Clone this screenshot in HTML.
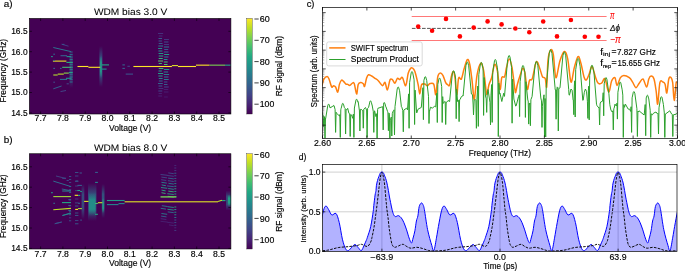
<!DOCTYPE html>
<html><head><meta charset="utf-8"><style>
html,body{margin:0;padding:0;background:#fff;}
svg{display:block;will-change:transform;font-family:"Liberation Sans", sans-serif;}
</style></head><body>
<svg xmlns="http://www.w3.org/2000/svg" width="685" height="271" viewBox="0 0 685 271">
<defs>
<linearGradient id="vgrad" x1="0" y1="1" x2="0" y2="0">
<stop offset="0.0" stop-color="#440154"/><stop offset="0.1" stop-color="#482475"/><stop offset="0.2" stop-color="#414487"/><stop offset="0.3" stop-color="#355f8d"/><stop offset="0.4" stop-color="#2a788e"/><stop offset="0.5" stop-color="#21918c"/><stop offset="0.6" stop-color="#22a884"/><stop offset="0.7" stop-color="#44bf70"/><stop offset="0.8" stop-color="#7ad151"/><stop offset="0.9" stop-color="#bddf26"/><stop offset="1.0" stop-color="#fde725"/>
</linearGradient>
<clipPath id="clipc"><rect x="322.5" y="7.5" width="355" height="131"/></clipPath>
<clipPath id="clipd"><rect x="322.5" y="164.6" width="354.5" height="86.9"/></clipPath>
<linearGradient id="bg0" x1="0" y1="0" x2="0" y2="1"><stop offset="0" stop-color="#355f8d" stop-opacity="0"/><stop offset="0.3" stop-color="#355f8d" stop-opacity="0.6"/><stop offset="0.7" stop-color="#355f8d" stop-opacity="0.6"/><stop offset="1" stop-color="#355f8d" stop-opacity="0"/></linearGradient><linearGradient id="bg1" x1="0" y1="0" x2="0" y2="1"><stop offset="0" stop-color="#32668d" stop-opacity="0"/><stop offset="0.3" stop-color="#32668d" stop-opacity="0.75"/><stop offset="0.7" stop-color="#32668d" stop-opacity="0.75"/><stop offset="1" stop-color="#32668d" stop-opacity="0"/></linearGradient><linearGradient id="bg2" x1="0" y1="0" x2="0" y2="1"><stop offset="0" stop-color="#229c88" stop-opacity="0"/><stop offset="0.3" stop-color="#229c88" stop-opacity="0.9"/><stop offset="0.7" stop-color="#229c88" stop-opacity="0.9"/><stop offset="1" stop-color="#229c88" stop-opacity="0"/></linearGradient><linearGradient id="bg3" x1="0" y1="0" x2="0" y2="1"><stop offset="0" stop-color="#32668d" stop-opacity="0"/><stop offset="0.3" stop-color="#32668d" stop-opacity="0.7"/><stop offset="0.7" stop-color="#32668d" stop-opacity="0.7"/><stop offset="1" stop-color="#32668d" stop-opacity="0"/></linearGradient><linearGradient id="bg4" x1="0" y1="0" x2="0" y2="1"><stop offset="0" stop-color="#2e6e8e" stop-opacity="0"/><stop offset="0.3" stop-color="#2e6e8e" stop-opacity="0.7"/><stop offset="0.7" stop-color="#2e6e8e" stop-opacity="0.7"/><stop offset="1" stop-color="#2e6e8e" stop-opacity="0"/></linearGradient><linearGradient id="bg5" x1="0" y1="0" x2="0" y2="1"><stop offset="0" stop-color="#21968a" stop-opacity="0"/><stop offset="0.3" stop-color="#21968a" stop-opacity="0.85"/><stop offset="0.7" stop-color="#21968a" stop-opacity="0.85"/><stop offset="1" stop-color="#21968a" stop-opacity="0"/></linearGradient><linearGradient id="bg6" x1="0" y1="0" x2="0" y2="1"><stop offset="0" stop-color="#2c738e" stop-opacity="0"/><stop offset="0.3" stop-color="#2c738e" stop-opacity="0.7"/><stop offset="0.7" stop-color="#2c738e" stop-opacity="0.7"/><stop offset="1" stop-color="#2c738e" stop-opacity="0"/></linearGradient><linearGradient id="bg7" x1="0" y1="0" x2="0" y2="1"><stop offset="0" stop-color="#229c88" stop-opacity="0"/><stop offset="0.3" stop-color="#229c88" stop-opacity="0.85"/><stop offset="0.7" stop-color="#229c88" stop-opacity="0.85"/><stop offset="1" stop-color="#229c88" stop-opacity="0"/></linearGradient><linearGradient id="bg8" x1="0" y1="0" x2="0" y2="1"><stop offset="0" stop-color="#32668d" stop-opacity="0"/><stop offset="0.3" stop-color="#32668d" stop-opacity="0.65"/><stop offset="0.7" stop-color="#32668d" stop-opacity="0.65"/><stop offset="1" stop-color="#32668d" stop-opacity="0"/></linearGradient><linearGradient id="bg9" x1="0" y1="0" x2="0" y2="1"><stop offset="0" stop-color="#22a386" stop-opacity="0"/><stop offset="0.3" stop-color="#22a386" stop-opacity="0.95"/><stop offset="0.7" stop-color="#22a386" stop-opacity="0.95"/><stop offset="1" stop-color="#22a386" stop-opacity="0"/></linearGradient></defs>
<rect width="685" height="271" fill="#fff"/>
<g>
<clipPath id="clipa"><rect x="29.4" y="18.45" width="201.5" height="95.55"/></clipPath>
<rect x="29.40" y="18.45" width="201.50" height="95.55" fill="#440154"/>
<g clip-path="url(#clipa)">
<rect x="69.60" y="50.00" width="3.20" height="38.00" fill="url(#bg0)"/>
<rect x="99.40" y="46.00" width="3.00" height="41.00" fill="url(#bg1)"/>
<rect x="99.90" y="56.00" width="2.00" height="22.00" fill="url(#bg2)"/>
<rect x="69.60" y="51.55" width="3.00" height="0.90" fill="#31688d"/>
<rect x="69.60" y="54.05" width="3.00" height="0.90" fill="#2e6f8e"/>
<rect x="69.60" y="56.55" width="3.00" height="0.90" fill="#2d728e"/>
<rect x="69.60" y="59.05" width="3.00" height="0.90" fill="#297a8e"/>
<rect x="69.60" y="64.05" width="3.00" height="0.90" fill="#2e6f8e"/>
<rect x="69.60" y="69.05" width="3.00" height="0.90" fill="#2a798e"/>
<rect x="69.60" y="71.55" width="3.00" height="0.90" fill="#404687"/>
<rect x="69.60" y="74.05" width="3.00" height="0.90" fill="#35608d"/>
<rect x="69.60" y="76.55" width="3.00" height="0.90" fill="#297a8e"/>
<rect x="69.60" y="79.05" width="3.00" height="0.90" fill="#306a8d"/>
<rect x="69.60" y="81.55" width="3.00" height="0.90" fill="#2a788e"/>
<line x1="61.50" y1="44.20" x2="68.50" y2="46.20" stroke="#414487" stroke-width="0.9"/>
<rect x="158.01" y="33.00" width="5.13" height="1.00" fill="#462f7b"/>
<rect x="158.80" y="35.50" width="3.76" height="1.00" fill="#472877"/>
<rect x="158.51" y="38.00" width="3.53" height="1.00" fill="#38598c"/>
<rect x="163.98" y="39.00" width="4.98" height="1.00" fill="#45327d"/>
<rect x="158.54" y="40.50" width="3.37" height="1.00" fill="#39558b"/>
<rect x="164.05" y="41.50" width="4.41" height="1.00" fill="#3b518a"/>
<rect x="158.69" y="43.00" width="3.86" height="1.00" fill="#39578b"/>
<rect x="164.03" y="44.00" width="4.95" height="1.00" fill="#44367f"/>
<rect x="158.32" y="45.50" width="4.77" height="1.00" fill="#2a798e"/>
<rect x="163.87" y="46.50" width="5.22" height="1.00" fill="#2c748e"/>
<rect x="158.11" y="48.00" width="4.04" height="1.00" fill="#228d8c"/>
<rect x="164.18" y="49.00" width="4.01" height="1.00" fill="#39578b"/>
<rect x="158.41" y="50.50" width="4.01" height="1.00" fill="#228d8c"/>
<rect x="163.81" y="51.50" width="4.64" height="1.00" fill="#2e6e8e"/>
<rect x="158.55" y="53.00" width="4.74" height="1.00" fill="#21978a"/>
<rect x="164.11" y="54.00" width="5.07" height="1.00" fill="#21988a"/>
<rect x="158.69" y="55.50" width="4.65" height="1.00" fill="#22a784"/>
<rect x="164.14" y="56.50" width="4.28" height="1.00" fill="#27808d"/>
<rect x="158.67" y="58.00" width="4.05" height="1.00" fill="#34b479"/>
<rect x="163.77" y="59.00" width="3.74" height="1.00" fill="#228f8c"/>
<rect x="158.07" y="60.50" width="5.01" height="1.00" fill="#55c566"/>
<rect x="163.85" y="61.50" width="3.83" height="1.00" fill="#43bf70"/>
<rect x="158.70" y="63.00" width="3.17" height="1.00" fill="#39b876"/>
<rect x="163.97" y="64.00" width="3.51" height="1.00" fill="#46c06f"/>
<rect x="158.70" y="68.00" width="4.66" height="1.00" fill="#3bb975"/>
<rect x="163.90" y="69.00" width="5.29" height="1.00" fill="#219989"/>
<rect x="158.48" y="70.50" width="3.37" height="1.00" fill="#219b89"/>
<rect x="163.72" y="71.50" width="4.42" height="1.00" fill="#27818d"/>
<rect x="158.03" y="73.00" width="5.15" height="1.00" fill="#229d88"/>
<rect x="163.79" y="74.00" width="5.34" height="1.00" fill="#2a788e"/>
<rect x="158.37" y="75.50" width="4.26" height="1.00" fill="#229f87"/>
<rect x="163.99" y="76.50" width="4.49" height="1.00" fill="#2a778e"/>
<rect x="158.75" y="78.00" width="3.86" height="1.00" fill="#26828d"/>
<rect x="163.86" y="79.00" width="4.84" height="1.00" fill="#2b778e"/>
<rect x="158.78" y="80.50" width="3.85" height="1.00" fill="#32668d"/>
<rect x="163.93" y="81.50" width="3.49" height="1.00" fill="#375a8c"/>
<rect x="158.02" y="83.00" width="4.77" height="1.00" fill="#34628d"/>
<rect x="163.98" y="84.00" width="3.53" height="1.00" fill="#375b8c"/>
<rect x="158.54" y="85.50" width="3.82" height="1.00" fill="#34608d"/>
<rect x="164.02" y="86.50" width="4.70" height="1.00" fill="#3f4888"/>
<rect x="158.54" y="88.00" width="4.80" height="1.00" fill="#462f7b"/>
<rect x="163.75" y="89.00" width="4.47" height="1.00" fill="#471e6f"/>
<rect x="158.29" y="90.50" width="4.01" height="1.00" fill="#414487"/>
<rect x="163.82" y="91.50" width="4.65" height="1.00" fill="#471e70"/>
<rect x="158.62" y="93.00" width="3.23" height="1.00" fill="#482172"/>
<rect x="158.25" y="95.50" width="3.91" height="1.00" fill="#482273"/>
<rect x="164.08" y="96.50" width="3.75" height="1.00" fill="#47186a"/>
<rect x="52.90" y="60.55" width="13.50" height="1.10" fill="#eae525"/>
<rect x="66.40" y="61.85" width="6.40" height="1.10" fill="#29ad80"/>
<rect x="77.50" y="65.95" width="10.90" height="1.10" fill="#fde725"/>
<rect x="88.40" y="66.75" width="11.80" height="1.10" fill="#fde725"/>
<rect x="133.40" y="65.95" width="38.50" height="1.10" fill="#fde725"/>
<rect x="171.90" y="65.05" width="6.10" height="1.10" fill="#dde326"/>
<rect x="178.00" y="65.95" width="18.00" height="1.10" fill="#fde725"/>
<rect x="196.00" y="64.60" width="13.50" height="1.10" fill="#fde725"/>
<rect x="209.50" y="64.60" width="15.50" height="1.10" fill="#7ad151"/>
<rect x="225.00" y="64.60" width="6.00" height="1.10" fill="#22a884"/>
<rect x="62.20" y="66.75" width="9.40" height="1.10" fill="#3dba74"/>
<rect x="71.60" y="66.75" width="1.20" height="1.10" fill="#21918c"/>
<rect x="53.30" y="74.45" width="4.40" height="1.10" fill="#b0dc2f"/>
<rect x="57.70" y="73.55" width="6.10" height="1.10" fill="#bddf26"/>
<rect x="63.80" y="72.55" width="5.00" height="1.10" fill="#87d448"/>
<rect x="68.80" y="72.05" width="3.90" height="1.10" fill="#22a884"/>
<rect x="102.00" y="64.35" width="7.00" height="1.10" fill="#22a884"/>
<rect x="102.00" y="68.55" width="4.60" height="1.10" fill="#21918c"/>
<rect x="122.40" y="64.35" width="2.50" height="1.10" fill="#33648d"/>
<rect x="122.40" y="67.85" width="2.50" height="1.10" fill="#355f8d"/>
<rect x="125.70" y="73.55" width="7.30" height="1.10" fill="#3b528a"/>
<rect x="127.40" y="65.75" width="2.50" height="1.10" fill="#414487"/>
<line x1="53.30" y1="47.50" x2="71.00" y2="51.60" stroke="#2c738e" stroke-width="1.0"/>
<rect x="62.20" y="43.85" width="2.20" height="1.10" fill="#3b528a"/>
<rect x="60.50" y="55.15" width="6.60" height="1.10" fill="#355f8d"/>
<rect x="66.60" y="56.05" width="4.40" height="1.10" fill="#21918c"/>
<rect x="51.10" y="56.05" width="1.70" height="1.10" fill="#229c88"/>
<rect x="53.30" y="53.65" width="1.70" height="1.10" fill="#355f8d"/>
<rect x="53.30" y="59.95" width="1.70" height="1.10" fill="#355f8d"/>
<rect x="53.30" y="67.85" width="1.70" height="1.10" fill="#33648d"/>
<rect x="60.00" y="67.85" width="1.60" height="1.10" fill="#355f8d"/>
<rect x="60.00" y="78.85" width="7.10" height="1.10" fill="#306c8e"/>
<rect x="66.00" y="77.75" width="5.60" height="1.10" fill="#21918c"/>
<rect x="53.30" y="81.65" width="1.70" height="1.10" fill="#3f4988"/>
<rect x="66.60" y="83.25" width="2.20" height="1.10" fill="#414487"/>
<line x1="53.30" y1="88.80" x2="61.60" y2="86.00" stroke="#355f8d" stroke-width="1.0"/>
<line x1="60.50" y1="91.60" x2="66.00" y2="90.50" stroke="#414487" stroke-width="1.0"/>
</g>
<rect x="29.4" y="18.45" width="201.5" height="95.55" fill="none" stroke="#000" stroke-width="0.6"/>
<line x1="29.40" y1="31.30" x2="31.90" y2="31.30" stroke="#000" stroke-width="0.6"/>
<line x1="230.90" y1="31.30" x2="228.40" y2="31.30" stroke="#000" stroke-width="0.6"/>
<line x1="29.40" y1="51.70" x2="31.90" y2="51.70" stroke="#000" stroke-width="0.6"/>
<line x1="230.90" y1="51.70" x2="228.40" y2="51.70" stroke="#000" stroke-width="0.6"/>
<line x1="29.40" y1="72.10" x2="31.90" y2="72.10" stroke="#000" stroke-width="0.6"/>
<line x1="230.90" y1="72.10" x2="228.40" y2="72.10" stroke="#000" stroke-width="0.6"/>
<line x1="29.40" y1="92.50" x2="31.90" y2="92.50" stroke="#000" stroke-width="0.6"/>
<line x1="230.90" y1="92.50" x2="228.40" y2="92.50" stroke="#000" stroke-width="0.6"/>
<line x1="29.40" y1="112.90" x2="31.90" y2="112.90" stroke="#000" stroke-width="0.6"/>
<line x1="230.90" y1="112.90" x2="228.40" y2="112.90" stroke="#000" stroke-width="0.6"/>
<line x1="40.60" y1="114.00" x2="40.60" y2="111.50" stroke="#000" stroke-width="0.6"/>
<line x1="40.60" y1="18.45" x2="40.60" y2="20.95" stroke="#000" stroke-width="0.6"/>
<line x1="62.90" y1="114.00" x2="62.90" y2="111.50" stroke="#000" stroke-width="0.6"/>
<line x1="62.90" y1="18.45" x2="62.90" y2="20.95" stroke="#000" stroke-width="0.6"/>
<line x1="85.20" y1="114.00" x2="85.20" y2="111.50" stroke="#000" stroke-width="0.6"/>
<line x1="85.20" y1="18.45" x2="85.20" y2="20.95" stroke="#000" stroke-width="0.6"/>
<line x1="107.50" y1="114.00" x2="107.50" y2="111.50" stroke="#000" stroke-width="0.6"/>
<line x1="107.50" y1="18.45" x2="107.50" y2="20.95" stroke="#000" stroke-width="0.6"/>
<line x1="129.80" y1="114.00" x2="129.80" y2="111.50" stroke="#000" stroke-width="0.6"/>
<line x1="129.80" y1="18.45" x2="129.80" y2="20.95" stroke="#000" stroke-width="0.6"/>
<line x1="152.10" y1="114.00" x2="152.10" y2="111.50" stroke="#000" stroke-width="0.6"/>
<line x1="152.10" y1="18.45" x2="152.10" y2="20.95" stroke="#000" stroke-width="0.6"/>
<line x1="174.40" y1="114.00" x2="174.40" y2="111.50" stroke="#000" stroke-width="0.6"/>
<line x1="174.40" y1="18.45" x2="174.40" y2="20.95" stroke="#000" stroke-width="0.6"/>
<line x1="196.70" y1="114.00" x2="196.70" y2="111.50" stroke="#000" stroke-width="0.6"/>
<line x1="196.70" y1="18.45" x2="196.70" y2="20.95" stroke="#000" stroke-width="0.6"/>
<line x1="219.00" y1="114.00" x2="219.00" y2="111.50" stroke="#000" stroke-width="0.6"/>
<line x1="219.00" y1="18.45" x2="219.00" y2="20.95" stroke="#000" stroke-width="0.6"/>
<rect x="246.8" y="18.45" width="5.4" height="95.55" fill="url(#vgrad)" stroke="#222" stroke-width="0.35"/>
</g>
<text x="3.80" y="6.90" font-size="9.2" fill="#000" stroke="#000" stroke-width="0.15" textLength="8.80" lengthAdjust="spacingAndGlyphs">a)</text>
<text x="93.90" y="15.00" font-size="9.6" fill="#000" stroke="#000" stroke-width="0.05" textLength="73.40" lengthAdjust="spacingAndGlyphs" text-rendering="geometricPrecision">WDM bias 3.0 V</text>
<text x="11.20" y="34.10" font-size="8.4" fill="#000" stroke="#000" stroke-width="0.15" textLength="16.40" lengthAdjust="spacingAndGlyphs">16.5</text>
<text x="11.20" y="54.50" font-size="8.4" fill="#000" stroke="#000" stroke-width="0.15" textLength="16.40" lengthAdjust="spacingAndGlyphs">16.0</text>
<text x="11.20" y="74.90" font-size="8.4" fill="#000" stroke="#000" stroke-width="0.15" textLength="16.40" lengthAdjust="spacingAndGlyphs">15.5</text>
<text x="11.20" y="95.30" font-size="8.4" fill="#000" stroke="#000" stroke-width="0.15" textLength="16.40" lengthAdjust="spacingAndGlyphs">15.0</text>
<text x="11.20" y="115.70" font-size="8.4" fill="#000" stroke="#000" stroke-width="0.15" textLength="16.40" lengthAdjust="spacingAndGlyphs">14.5</text>
<text transform="translate(6.20,70.70) rotate(-90)" x="0" y="0" text-anchor="middle" font-size="8.4" fill="#000" stroke="#000" stroke-width="0.15" textLength="63.60" lengthAdjust="spacingAndGlyphs">Frequency (GHz)</text>
<text x="34.60" y="121.00" font-size="8.4" fill="#000" stroke="#000" stroke-width="0.15" textLength="12.00" lengthAdjust="spacingAndGlyphs">7.7</text>
<text x="56.90" y="121.00" font-size="8.4" fill="#000" stroke="#000" stroke-width="0.15" textLength="12.00" lengthAdjust="spacingAndGlyphs">7.8</text>
<text x="79.20" y="121.00" font-size="8.4" fill="#000" stroke="#000" stroke-width="0.15" textLength="12.00" lengthAdjust="spacingAndGlyphs">7.9</text>
<text x="101.50" y="121.00" font-size="8.4" fill="#000" stroke="#000" stroke-width="0.15" textLength="12.00" lengthAdjust="spacingAndGlyphs">8.0</text>
<text x="123.80" y="121.00" font-size="8.4" fill="#000" stroke="#000" stroke-width="0.15" textLength="12.00" lengthAdjust="spacingAndGlyphs">8.1</text>
<text x="146.10" y="121.00" font-size="8.4" fill="#000" stroke="#000" stroke-width="0.15" textLength="12.00" lengthAdjust="spacingAndGlyphs">8.2</text>
<text x="168.40" y="121.00" font-size="8.4" fill="#000" stroke="#000" stroke-width="0.15" textLength="12.00" lengthAdjust="spacingAndGlyphs">8.3</text>
<text x="190.70" y="121.00" font-size="8.4" fill="#000" stroke="#000" stroke-width="0.15" textLength="12.00" lengthAdjust="spacingAndGlyphs">8.4</text>
<text x="213.00" y="121.00" font-size="8.4" fill="#000" stroke="#000" stroke-width="0.15" textLength="12.00" lengthAdjust="spacingAndGlyphs">8.5</text>
<text x="109.00" y="130.70" font-size="8.4" fill="#000" stroke="#000" stroke-width="0.15" textLength="42.20" lengthAdjust="spacingAndGlyphs">Voltage (V)</text>
<line x1="254.40" y1="19.00" x2="258.70" y2="19.00" stroke="#000" stroke-width="0.75"/>
<text x="259.70" y="22.10" font-size="8.4" fill="#000" stroke="#000" stroke-width="0.15" textLength="10.00" lengthAdjust="spacingAndGlyphs">60</text>
<line x1="254.40" y1="40.30" x2="258.70" y2="40.30" stroke="#000" stroke-width="0.75"/>
<text x="259.70" y="43.40" font-size="8.4" fill="#000" stroke="#000" stroke-width="0.15" textLength="10.00" lengthAdjust="spacingAndGlyphs">70</text>
<line x1="254.40" y1="61.60" x2="258.70" y2="61.60" stroke="#000" stroke-width="0.75"/>
<text x="259.70" y="64.70" font-size="8.4" fill="#000" stroke="#000" stroke-width="0.15" textLength="10.00" lengthAdjust="spacingAndGlyphs">80</text>
<line x1="254.40" y1="82.90" x2="258.70" y2="82.90" stroke="#000" stroke-width="0.75"/>
<text x="259.70" y="86.00" font-size="8.4" fill="#000" stroke="#000" stroke-width="0.15" textLength="10.00" lengthAdjust="spacingAndGlyphs">90</text>
<line x1="254.40" y1="104.20" x2="258.70" y2="104.20" stroke="#000" stroke-width="0.75"/>
<text x="259.70" y="107.30" font-size="8.4" fill="#000" stroke="#000" stroke-width="0.15" textLength="14.60" lengthAdjust="spacingAndGlyphs">100</text>
<text transform="translate(281.60,66.05) rotate(-90)" x="0" y="0" text-anchor="middle" font-size="8.4" fill="#000" stroke="#000" stroke-width="0.15" textLength="60.30" lengthAdjust="spacingAndGlyphs">RF signal (dBm)</text>
<g>
<clipPath id="clipb"><rect x="29.4" y="153.75" width="201.5" height="95.25"/></clipPath>
<rect x="29.40" y="153.75" width="201.50" height="95.25" fill="#440154"/>
<g clip-path="url(#clipb)">
<rect x="81.60" y="184.00" width="2.70" height="35.00" fill="url(#bg3)"/>
<rect x="88.00" y="183.00" width="8.40" height="38.00" fill="url(#bg4)"/>
<rect x="89.00" y="193.00" width="6.60" height="23.00" fill="url(#bg5)"/>
<rect x="101.80" y="184.00" width="2.70" height="34.00" fill="url(#bg6)"/>
<rect x="102.20" y="198.00" width="1.90" height="15.00" fill="url(#bg7)"/>
<rect x="69.00" y="176.05" width="2.20" height="0.90" fill="#375a8c"/>
<rect x="69.00" y="179.05" width="2.20" height="0.90" fill="#39558b"/>
<rect x="69.00" y="182.05" width="2.20" height="0.90" fill="#3f4988"/>
<rect x="69.00" y="186.15" width="2.20" height="0.90" fill="#2e6f8e"/>
<rect x="69.00" y="189.15" width="2.20" height="0.90" fill="#424185"/>
<rect x="69.00" y="192.15" width="2.20" height="0.90" fill="#365c8c"/>
<rect x="69.00" y="199.35" width="2.20" height="0.90" fill="#2d708e"/>
<rect x="69.00" y="205.35" width="2.20" height="0.90" fill="#404687"/>
<rect x="69.00" y="211.35" width="2.20" height="0.90" fill="#355f8d"/>
<rect x="69.00" y="214.35" width="2.20" height="0.90" fill="#34628d"/>
<rect x="69.00" y="217.35" width="2.20" height="0.90" fill="#414387"/>
<rect x="69.00" y="220.35" width="2.20" height="0.90" fill="#39568b"/>
<rect x="75.00" y="172.05" width="3.40" height="0.90" fill="#375a8c"/>
<rect x="75.00" y="175.55" width="3.40" height="0.90" fill="#3d4c89"/>
<rect x="75.00" y="180.85" width="3.40" height="0.90" fill="#375b8c"/>
<rect x="75.00" y="185.55" width="3.40" height="0.90" fill="#433b82"/>
<rect x="75.00" y="190.25" width="3.40" height="0.90" fill="#424085"/>
<rect x="75.00" y="198.55" width="3.40" height="0.90" fill="#443880"/>
<rect x="75.00" y="202.45" width="3.40" height="0.90" fill="#3c4f89"/>
<rect x="75.00" y="205.55" width="3.40" height="0.90" fill="#32658d"/>
<rect x="75.00" y="212.55" width="3.40" height="0.90" fill="#3a548a"/>
<rect x="75.00" y="214.95" width="3.40" height="0.90" fill="#365e8d"/>
<rect x="75.00" y="220.15" width="3.40" height="0.90" fill="#3f4988"/>
<rect x="75.00" y="223.35" width="3.40" height="0.90" fill="#365c8c"/>
<line x1="61.80" y1="189.00" x2="70.90" y2="190.70" stroke="#306c8e" stroke-width="0.9"/>
<line x1="63.00" y1="215.40" x2="70.20" y2="213.00" stroke="#26848d" stroke-width="0.9"/>
<line x1="54.60" y1="223.80" x2="61.80" y2="222.00" stroke="#375a8c" stroke-width="0.9"/>
<line x1="56.00" y1="176.00" x2="66.00" y2="178.50" stroke="#3f4988" stroke-width="0.9"/>
<rect x="174.30" y="164.95" width="2.00" height="0.90" fill="#472978"/>
<rect x="174.30" y="167.55" width="2.00" height="0.90" fill="#433a82"/>
<rect x="174.30" y="170.15" width="2.00" height="0.90" fill="#443981"/>
<line x1="168.25" y1="172.90" x2="173.80" y2="173.70" stroke="#3d4c89" stroke-width="0.9"/>
<rect x="174.30" y="172.75" width="2.00" height="0.90" fill="#306b8d"/>
<line x1="160.57" y1="174.50" x2="167.65" y2="175.30" stroke="#3f4888" stroke-width="0.9"/>
<line x1="167.29" y1="175.50" x2="173.80" y2="176.30" stroke="#414387" stroke-width="0.9"/>
<rect x="174.30" y="175.35" width="2.00" height="0.90" fill="#375a8c"/>
<line x1="161.37" y1="177.10" x2="167.10" y2="177.90" stroke="#3f4988" stroke-width="0.9"/>
<line x1="168.10" y1="178.10" x2="173.80" y2="178.90" stroke="#306a8d" stroke-width="0.9"/>
<rect x="174.30" y="177.95" width="2.00" height="0.90" fill="#32678d"/>
<line x1="161.14" y1="179.70" x2="166.29" y2="180.50" stroke="#3e4a88" stroke-width="0.9"/>
<line x1="167.91" y1="180.70" x2="173.80" y2="181.50" stroke="#38588b" stroke-width="0.9"/>
<rect x="174.30" y="180.55" width="2.00" height="0.90" fill="#287e8e"/>
<line x1="161.36" y1="182.30" x2="166.81" y2="183.10" stroke="#27808d" stroke-width="0.9"/>
<line x1="168.46" y1="183.30" x2="173.80" y2="184.10" stroke="#27808d" stroke-width="0.9"/>
<rect x="174.30" y="183.15" width="2.00" height="0.90" fill="#238c8c"/>
<line x1="161.64" y1="184.90" x2="165.88" y2="185.70" stroke="#21988a" stroke-width="0.9"/>
<line x1="167.08" y1="185.90" x2="173.80" y2="186.70" stroke="#2d708e" stroke-width="0.9"/>
<rect x="174.30" y="185.75" width="2.00" height="0.90" fill="#22a784"/>
<line x1="160.97" y1="187.50" x2="167.24" y2="188.30" stroke="#219b89" stroke-width="0.9"/>
<line x1="168.16" y1="188.50" x2="173.80" y2="189.30" stroke="#21968a" stroke-width="0.9"/>
<rect x="174.30" y="188.35" width="2.00" height="0.90" fill="#22a884"/>
<line x1="161.50" y1="190.10" x2="165.65" y2="190.90" stroke="#27ab81" stroke-width="0.9"/>
<line x1="168.29" y1="191.10" x2="173.80" y2="191.90" stroke="#35b579" stroke-width="0.9"/>
<rect x="174.30" y="190.95" width="2.00" height="0.90" fill="#22a884"/>
<line x1="161.50" y1="192.70" x2="165.56" y2="193.50" stroke="#39b876" stroke-width="0.9"/>
<line x1="167.34" y1="193.70" x2="173.80" y2="194.50" stroke="#22a286" stroke-width="0.9"/>
<rect x="174.30" y="193.55" width="2.00" height="0.90" fill="#22a884"/>
<line x1="167.78" y1="196.30" x2="173.80" y2="197.10" stroke="#56c565" stroke-width="0.9"/>
<rect x="174.30" y="196.15" width="2.00" height="0.90" fill="#22a884"/>
<line x1="161.83" y1="205.70" x2="167.55" y2="206.50" stroke="#297c8e" stroke-width="0.9"/>
<line x1="167.56" y1="206.70" x2="173.80" y2="207.50" stroke="#21948b" stroke-width="0.9"/>
<rect x="174.30" y="206.55" width="2.00" height="0.90" fill="#22a884"/>
<line x1="160.73" y1="208.30" x2="165.94" y2="209.10" stroke="#287c8e" stroke-width="0.9"/>
<line x1="167.47" y1="209.30" x2="173.80" y2="210.10" stroke="#219c88" stroke-width="0.9"/>
<rect x="174.30" y="209.15" width="2.00" height="0.90" fill="#22a485"/>
<line x1="167.74" y1="211.90" x2="173.80" y2="212.70" stroke="#2e6e8e" stroke-width="0.9"/>
<rect x="174.30" y="211.75" width="2.00" height="0.90" fill="#219a89"/>
<line x1="161.43" y1="213.50" x2="167.19" y2="214.30" stroke="#287f8d" stroke-width="0.9"/>
<rect x="174.30" y="214.35" width="2.00" height="0.90" fill="#219889"/>
<line x1="161.09" y1="216.10" x2="166.50" y2="216.90" stroke="#31678d" stroke-width="0.9"/>
<rect x="174.30" y="216.95" width="2.00" height="0.90" fill="#27818d"/>
<line x1="160.74" y1="218.70" x2="166.35" y2="219.50" stroke="#462c7a" stroke-width="0.9"/>
<rect x="174.30" y="219.55" width="2.00" height="0.90" fill="#375a8c"/>
<line x1="160.54" y1="221.30" x2="167.69" y2="222.10" stroke="#472071" stroke-width="0.9"/>
<line x1="167.30" y1="222.30" x2="173.80" y2="223.10" stroke="#482374" stroke-width="0.9"/>
<rect x="174.30" y="222.15" width="2.00" height="0.90" fill="#39558b"/>
<line x1="168.99" y1="224.90" x2="173.80" y2="225.70" stroke="#482273" stroke-width="0.9"/>
<rect x="174.30" y="224.75" width="2.00" height="0.90" fill="#3c4e89"/>
<rect x="174.30" y="227.35" width="2.00" height="0.90" fill="#462c7a"/>
<rect x="174.30" y="229.95" width="2.00" height="0.90" fill="#433d83"/>
<rect x="160.50" y="196.20" width="15.90" height="1.40" fill="#6fcd57"/>
<rect x="53.30" y="196.05" width="17.70" height="1.10" fill="#a2d937"/>
<rect x="62.00" y="202.05" width="9.00" height="1.10" fill="#22a884"/>
<line x1="53.30" y1="209.80" x2="71.00" y2="208.40" stroke="#bddf26" stroke-width="1.1"/>
<rect x="74.70" y="194.75" width="3.30" height="1.10" fill="#fde725"/>
<rect x="78.00" y="194.85" width="2.20" height="1.10" fill="#22a884"/>
<rect x="75.20" y="208.85" width="2.80" height="1.10" fill="#fde725"/>
<rect x="78.00" y="208.05" width="3.90" height="1.10" fill="#9cd83c"/>
<rect x="84.10" y="200.85" width="4.40" height="1.10" fill="#dde326"/>
<rect x="95.10" y="202.95" width="2.80" height="1.10" fill="#44bf70"/>
<rect x="97.90" y="202.15" width="4.40" height="1.10" fill="#cae126"/>
<rect x="106.90" y="199.95" width="17.70" height="1.10" fill="#229c88"/>
<rect x="106.90" y="204.05" width="11.60" height="1.10" fill="#26848d"/>
<rect x="118.50" y="203.05" width="6.10" height="1.10" fill="#26848d"/>
<rect x="124.60" y="201.25" width="93.40" height="1.10" fill="#dde326"/>
<line x1="218.00" y1="201.60" x2="222.00" y2="200.30" stroke="#bddf26" stroke-width="1.1"/>
<rect x="222.00" y="200.05" width="3.50" height="1.10" fill="#22a884"/>
<rect x="226.00" y="190.50" width="5.00" height="20.00" fill="url(#bg8)"/>
<rect x="227.80" y="194.50" width="3.20" height="12.00" fill="url(#bg9)"/>
<line x1="53.30" y1="181.10" x2="71.00" y2="186.60" stroke="#306c8e" stroke-width="1.0"/>
<rect x="62.20" y="177.75" width="3.80" height="1.10" fill="#3f4988"/>
<rect x="66.60" y="179.95" width="2.20" height="1.10" fill="#3f4988"/>
<rect x="62.20" y="190.45" width="8.80" height="1.10" fill="#287d8e"/>
<rect x="51.10" y="192.15" width="1.70" height="1.10" fill="#229c88"/>
<rect x="68.30" y="199.15" width="2.70" height="1.10" fill="#355f8d"/>
<rect x="53.30" y="202.75" width="1.70" height="1.10" fill="#306c8e"/>
<rect x="68.30" y="204.95" width="2.70" height="1.10" fill="#355f8d"/>
<rect x="68.30" y="209.95" width="2.70" height="1.10" fill="#355f8d"/>
<line x1="62.20" y1="215.50" x2="71.00" y2="213.30" stroke="#26848d" stroke-width="1.0"/>
<line x1="55.00" y1="223.60" x2="61.60" y2="222.10" stroke="#3b528a" stroke-width="1.0"/>
<rect x="77.40" y="184.85" width="4.50" height="1.10" fill="#355f8d"/>
<rect x="77.40" y="189.95" width="2.80" height="1.10" fill="#22a884"/>
<rect x="80.20" y="190.95" width="1.70" height="1.10" fill="#229c88"/>
<rect x="79.60" y="172.45" width="2.30" height="1.10" fill="#3b528a"/>
<rect x="95.10" y="171.85" width="2.80" height="1.10" fill="#355f8d"/>
<rect x="95.10" y="181.85" width="2.80" height="1.10" fill="#26848d"/>
<rect x="95.10" y="213.75" width="2.80" height="1.10" fill="#22a884"/>
<rect x="80.20" y="219.55" width="1.70" height="1.10" fill="#3b528a"/>
<rect x="78.00" y="202.75" width="2.00" height="1.10" fill="#355f8d"/>
<rect x="75.50" y="180.45" width="2.70" height="1.10" fill="#3b528a"/>
</g>
<rect x="29.4" y="153.75" width="201.5" height="95.25" fill="none" stroke="#000" stroke-width="0.6"/>
<line x1="29.40" y1="166.80" x2="31.90" y2="166.80" stroke="#000" stroke-width="0.6"/>
<line x1="230.90" y1="166.80" x2="228.40" y2="166.80" stroke="#000" stroke-width="0.6"/>
<line x1="29.40" y1="187.20" x2="31.90" y2="187.20" stroke="#000" stroke-width="0.6"/>
<line x1="230.90" y1="187.20" x2="228.40" y2="187.20" stroke="#000" stroke-width="0.6"/>
<line x1="29.40" y1="207.60" x2="31.90" y2="207.60" stroke="#000" stroke-width="0.6"/>
<line x1="230.90" y1="207.60" x2="228.40" y2="207.60" stroke="#000" stroke-width="0.6"/>
<line x1="29.40" y1="228.00" x2="31.90" y2="228.00" stroke="#000" stroke-width="0.6"/>
<line x1="230.90" y1="228.00" x2="228.40" y2="228.00" stroke="#000" stroke-width="0.6"/>
<line x1="29.40" y1="248.40" x2="31.90" y2="248.40" stroke="#000" stroke-width="0.6"/>
<line x1="230.90" y1="248.40" x2="228.40" y2="248.40" stroke="#000" stroke-width="0.6"/>
<line x1="40.60" y1="249.00" x2="40.60" y2="246.50" stroke="#000" stroke-width="0.6"/>
<line x1="40.60" y1="153.75" x2="40.60" y2="156.25" stroke="#000" stroke-width="0.6"/>
<line x1="62.90" y1="249.00" x2="62.90" y2="246.50" stroke="#000" stroke-width="0.6"/>
<line x1="62.90" y1="153.75" x2="62.90" y2="156.25" stroke="#000" stroke-width="0.6"/>
<line x1="85.20" y1="249.00" x2="85.20" y2="246.50" stroke="#000" stroke-width="0.6"/>
<line x1="85.20" y1="153.75" x2="85.20" y2="156.25" stroke="#000" stroke-width="0.6"/>
<line x1="107.50" y1="249.00" x2="107.50" y2="246.50" stroke="#000" stroke-width="0.6"/>
<line x1="107.50" y1="153.75" x2="107.50" y2="156.25" stroke="#000" stroke-width="0.6"/>
<line x1="129.80" y1="249.00" x2="129.80" y2="246.50" stroke="#000" stroke-width="0.6"/>
<line x1="129.80" y1="153.75" x2="129.80" y2="156.25" stroke="#000" stroke-width="0.6"/>
<line x1="152.10" y1="249.00" x2="152.10" y2="246.50" stroke="#000" stroke-width="0.6"/>
<line x1="152.10" y1="153.75" x2="152.10" y2="156.25" stroke="#000" stroke-width="0.6"/>
<line x1="174.40" y1="249.00" x2="174.40" y2="246.50" stroke="#000" stroke-width="0.6"/>
<line x1="174.40" y1="153.75" x2="174.40" y2="156.25" stroke="#000" stroke-width="0.6"/>
<line x1="196.70" y1="249.00" x2="196.70" y2="246.50" stroke="#000" stroke-width="0.6"/>
<line x1="196.70" y1="153.75" x2="196.70" y2="156.25" stroke="#000" stroke-width="0.6"/>
<line x1="219.00" y1="249.00" x2="219.00" y2="246.50" stroke="#000" stroke-width="0.6"/>
<line x1="219.00" y1="153.75" x2="219.00" y2="156.25" stroke="#000" stroke-width="0.6"/>
<rect x="246.8" y="153.75" width="5.4" height="95.25" fill="url(#vgrad)" stroke="#222" stroke-width="0.35"/>
</g>
<text x="3.80" y="142.50" font-size="9.2" fill="#000" stroke="#000" stroke-width="0.15" textLength="8.80" lengthAdjust="spacingAndGlyphs">b)</text>
<text x="93.90" y="150.50" font-size="9.6" fill="#000" stroke="#000" stroke-width="0.05" textLength="73.40" lengthAdjust="spacingAndGlyphs" text-rendering="geometricPrecision">WDM bias 8.0 V</text>
<text x="11.20" y="169.60" font-size="8.4" fill="#000" stroke="#000" stroke-width="0.15" textLength="16.40" lengthAdjust="spacingAndGlyphs">16.5</text>
<text x="11.20" y="190.00" font-size="8.4" fill="#000" stroke="#000" stroke-width="0.15" textLength="16.40" lengthAdjust="spacingAndGlyphs">16.0</text>
<text x="11.20" y="210.40" font-size="8.4" fill="#000" stroke="#000" stroke-width="0.15" textLength="16.40" lengthAdjust="spacingAndGlyphs">15.5</text>
<text x="11.20" y="230.80" font-size="8.4" fill="#000" stroke="#000" stroke-width="0.15" textLength="16.40" lengthAdjust="spacingAndGlyphs">15.0</text>
<text x="11.20" y="251.20" font-size="8.4" fill="#000" stroke="#000" stroke-width="0.15" textLength="16.40" lengthAdjust="spacingAndGlyphs">14.5</text>
<text transform="translate(6.20,206.20) rotate(-90)" x="0" y="0" text-anchor="middle" font-size="8.4" fill="#000" stroke="#000" stroke-width="0.15" textLength="63.60" lengthAdjust="spacingAndGlyphs">Frequency (GHz)</text>
<text x="34.60" y="256.50" font-size="8.4" fill="#000" stroke="#000" stroke-width="0.15" textLength="12.00" lengthAdjust="spacingAndGlyphs">7.7</text>
<text x="56.90" y="256.50" font-size="8.4" fill="#000" stroke="#000" stroke-width="0.15" textLength="12.00" lengthAdjust="spacingAndGlyphs">7.8</text>
<text x="79.20" y="256.50" font-size="8.4" fill="#000" stroke="#000" stroke-width="0.15" textLength="12.00" lengthAdjust="spacingAndGlyphs">7.9</text>
<text x="101.50" y="256.50" font-size="8.4" fill="#000" stroke="#000" stroke-width="0.15" textLength="12.00" lengthAdjust="spacingAndGlyphs">8.0</text>
<text x="123.80" y="256.50" font-size="8.4" fill="#000" stroke="#000" stroke-width="0.15" textLength="12.00" lengthAdjust="spacingAndGlyphs">8.1</text>
<text x="146.10" y="256.50" font-size="8.4" fill="#000" stroke="#000" stroke-width="0.15" textLength="12.00" lengthAdjust="spacingAndGlyphs">8.2</text>
<text x="168.40" y="256.50" font-size="8.4" fill="#000" stroke="#000" stroke-width="0.15" textLength="12.00" lengthAdjust="spacingAndGlyphs">8.3</text>
<text x="190.70" y="256.50" font-size="8.4" fill="#000" stroke="#000" stroke-width="0.15" textLength="12.00" lengthAdjust="spacingAndGlyphs">8.4</text>
<text x="213.00" y="256.50" font-size="8.4" fill="#000" stroke="#000" stroke-width="0.15" textLength="12.00" lengthAdjust="spacingAndGlyphs">8.5</text>
<text x="109.00" y="266.20" font-size="8.4" fill="#000" stroke="#000" stroke-width="0.15" textLength="42.20" lengthAdjust="spacingAndGlyphs">Voltage (V)</text>
<line x1="254.40" y1="154.50" x2="258.70" y2="154.50" stroke="#000" stroke-width="0.75"/>
<text x="259.70" y="157.60" font-size="8.4" fill="#000" stroke="#000" stroke-width="0.15" textLength="10.00" lengthAdjust="spacingAndGlyphs">60</text>
<line x1="254.40" y1="175.80" x2="258.70" y2="175.80" stroke="#000" stroke-width="0.75"/>
<text x="259.70" y="178.90" font-size="8.4" fill="#000" stroke="#000" stroke-width="0.15" textLength="10.00" lengthAdjust="spacingAndGlyphs">70</text>
<line x1="254.40" y1="197.10" x2="258.70" y2="197.10" stroke="#000" stroke-width="0.75"/>
<text x="259.70" y="200.20" font-size="8.4" fill="#000" stroke="#000" stroke-width="0.15" textLength="10.00" lengthAdjust="spacingAndGlyphs">80</text>
<line x1="254.40" y1="218.40" x2="258.70" y2="218.40" stroke="#000" stroke-width="0.75"/>
<text x="259.70" y="221.50" font-size="8.4" fill="#000" stroke="#000" stroke-width="0.15" textLength="10.00" lengthAdjust="spacingAndGlyphs">90</text>
<line x1="254.40" y1="239.70" x2="258.70" y2="239.70" stroke="#000" stroke-width="0.75"/>
<text x="259.70" y="242.80" font-size="8.4" fill="#000" stroke="#000" stroke-width="0.15" textLength="14.60" lengthAdjust="spacingAndGlyphs">100</text>
<text transform="translate(281.60,201.55) rotate(-90)" x="0" y="0" text-anchor="middle" font-size="8.4" fill="#000" stroke="#000" stroke-width="0.15" textLength="60.30" lengthAdjust="spacingAndGlyphs">RF signal (dBm)</text>
<g>
<g clip-path="url(#clipc)">
<path d="M322.00,85.70 C322.32,84.62 323.03,80.72 323.90,79.20 C324.77,77.68 326.33,76.60 327.20,76.60 C328.07,76.60 328.35,77.47 329.10,79.20 C329.85,80.93 330.95,85.92 331.70,87.00 C332.45,88.08 332.95,85.70 333.60,85.70 C334.25,85.70 334.90,85.93 335.60,87.00 C336.30,88.07 337.17,92.53 337.80,92.10 C338.43,91.67 338.80,86.38 339.40,84.40 C340.00,82.42 340.75,80.75 341.40,80.20 C342.05,79.65 342.55,80.45 343.30,81.10 C344.05,81.75 345.15,83.55 345.90,84.10 C346.65,84.65 347.15,84.18 347.80,84.40 C348.45,84.62 349.03,85.62 349.80,85.40 C350.57,85.18 351.65,83.38 352.40,83.10 C353.15,82.82 353.60,81.87 354.30,83.70 C355.00,85.53 355.95,93.98 356.60,94.10 C357.25,94.22 357.50,86.35 358.20,84.40 C358.90,82.45 359.95,82.52 360.80,82.40 C361.65,82.28 362.67,83.05 363.30,83.70 C363.93,84.35 364.05,87.27 364.60,86.30 C365.15,85.33 365.95,79.83 366.60,77.90 C367.25,75.97 367.65,75.02 368.50,74.70 C369.35,74.38 370.62,75.40 371.70,76.00 C372.78,76.60 373.90,77.52 375.00,78.30 C376.10,79.08 377.05,79.47 378.30,80.70 C379.55,81.93 381.38,85.42 382.50,85.70 C383.62,85.98 384.18,81.70 385.00,82.40 C385.82,83.10 386.57,90.32 387.40,89.90 C388.23,89.48 389.17,81.62 390.00,79.90 C390.83,78.18 391.58,79.05 392.40,79.60 C393.22,80.15 394.07,83.42 394.90,83.20 C395.73,82.98 396.57,78.90 397.40,78.30 C398.23,77.70 399.07,79.75 399.90,79.60 C400.73,79.45 401.43,76.38 402.40,77.40 C403.37,78.42 404.73,86.38 405.70,85.70 C406.67,85.02 407.40,76.17 408.20,73.30 C409.00,70.43 409.80,69.38 410.50,68.50 C411.20,67.62 411.67,67.48 412.40,68.00 C413.13,68.52 413.93,68.78 414.90,71.60 C415.87,74.42 417.38,81.17 418.20,84.90 C419.02,88.63 419.25,94.00 419.80,94.00 C420.35,94.00 420.67,86.55 421.50,84.90 C422.33,83.25 423.83,83.97 424.80,84.10 C425.77,84.23 426.43,85.78 427.30,85.70 C428.17,85.62 428.93,83.85 430.00,83.60 C431.07,83.35 432.72,82.35 433.70,84.20 C434.68,86.05 435.23,95.88 435.90,94.70 C436.57,93.52 437.00,80.70 437.70,77.10 C438.40,73.50 439.23,73.40 440.10,73.10 C440.97,72.80 441.97,73.70 442.90,75.30 C443.83,76.90 444.93,81.17 445.70,82.70 C446.47,84.23 446.88,84.05 447.50,84.50 C448.12,84.95 448.78,86.63 449.40,85.40 C450.02,84.17 450.58,79.40 451.20,77.10 C451.82,74.80 452.48,71.60 453.10,71.60 C453.72,71.60 454.28,73.25 454.90,77.10 C455.52,80.95 456.18,94.53 456.80,94.70 C457.42,94.87 457.83,80.72 458.60,78.10 C459.37,75.48 460.48,80.55 461.40,79.00 C462.32,77.45 463.12,72.03 464.10,68.80 C465.08,65.57 466.37,60.37 467.30,59.60 C468.23,58.83 468.90,60.67 469.70,64.20 C470.50,67.73 471.33,74.95 472.10,80.80 C472.87,86.65 473.48,100.22 474.30,99.30 C475.12,98.38 475.93,81.30 477.00,75.30 C478.07,69.30 479.62,64.22 480.70,63.30 C481.78,62.38 482.72,66.27 483.50,69.80 C484.28,73.33 484.85,80.35 485.40,84.50 C485.95,88.65 486.20,94.70 486.80,94.70 C487.40,94.70 488.18,87.37 489.00,84.50 C489.82,81.63 490.78,80.83 491.70,77.50 C492.62,74.17 493.58,65.73 494.50,64.50 C495.42,63.27 496.28,65.93 497.20,70.10 C498.12,74.27 499.23,88.27 500.00,89.50 C500.77,90.73 501.03,79.65 501.80,77.50 C502.57,75.35 503.82,78.28 504.60,76.60 C505.38,74.92 505.73,70.33 506.50,67.40 C507.27,64.47 508.28,59.00 509.20,59.00 C510.12,59.00 511.07,62.47 512.00,67.40 C512.93,72.33 514.18,84.45 514.80,88.60 C515.42,92.75 515.25,93.07 515.70,92.30 C516.15,91.53 516.73,86.92 517.50,84.00 C518.27,81.08 519.43,77.42 520.30,74.80 C521.17,72.18 521.93,68.62 522.70,68.30 C523.47,67.98 524.13,69.37 524.90,72.90 C525.67,76.43 526.53,88.27 527.30,89.50 C528.07,90.73 528.67,82.13 529.50,80.30 C530.33,78.47 531.17,81.58 532.30,78.50 C533.43,75.42 535.07,63.50 536.30,61.80 C537.53,60.10 538.68,65.83 539.70,68.30 C540.72,70.77 541.48,74.90 542.40,76.60 C543.32,78.30 544.48,76.80 545.20,78.50 C545.92,80.20 546.23,89.88 546.70,86.80 C547.17,83.72 547.35,66.15 548.00,60.00 C548.65,53.85 549.72,50.85 550.60,49.90 C551.48,48.95 552.42,49.68 553.30,54.30 C554.18,58.92 554.80,76.48 555.90,77.60 C557.00,78.72 558.50,65.35 559.90,61.00 C561.30,56.65 563.00,51.87 564.30,51.50 C565.60,51.13 566.58,53.72 567.70,58.80 C568.82,63.88 569.90,80.53 571.00,82.00 C572.10,83.47 573.13,71.85 574.30,67.60 C575.47,63.35 576.90,57.23 578.00,56.50 C579.10,55.77 579.87,59.68 580.90,63.20 C581.93,66.72 583.27,74.83 584.20,77.60 C585.13,80.37 585.68,80.37 586.50,79.80 C587.32,79.23 588.18,76.42 589.10,74.20 C590.02,71.98 590.97,66.12 592.00,66.50 C593.03,66.88 594.30,73.73 595.30,76.50 C596.30,79.27 596.95,81.98 598.00,83.10 C599.05,84.22 600.43,83.92 601.60,83.20 C602.77,82.48 603.82,77.32 605.00,78.80 C606.18,80.28 607.60,91.73 608.70,92.10 C609.80,92.47 610.57,83.40 611.60,81.00 C612.63,78.60 613.98,76.97 614.90,77.70 C615.82,78.43 616.18,85.40 617.10,85.40 C618.02,85.40 619.28,79.35 620.40,77.70 C621.52,76.05 622.32,75.50 623.80,75.50 C625.28,75.50 627.83,76.60 629.30,77.70 C630.77,78.80 631.50,80.43 632.60,82.10 C633.70,83.77 634.80,87.52 635.90,87.70 C637.00,87.88 638.02,84.65 639.20,83.20 C640.38,81.75 641.77,78.35 643.00,79.00 C644.23,79.65 645.63,87.10 646.60,87.10 C647.57,87.10 648.05,80.83 648.80,79.00 C649.55,77.17 650.23,76.10 651.10,76.10 C651.97,76.10 653.15,76.43 654.00,79.00 C654.85,81.57 655.58,87.33 656.20,91.50 C656.82,95.67 657.08,105.47 657.70,104.00 C658.32,102.53 659.03,86.37 659.90,82.70 C660.77,79.03 662.03,81.75 662.90,82.00 C663.77,82.25 664.45,82.37 665.10,84.20 C665.75,86.03 666.18,93.87 666.80,93.00 C667.42,92.13 668.10,81.58 668.80,79.00 C669.50,76.42 670.35,76.88 671.00,77.50 C671.65,78.12 672.17,78.88 672.70,82.70 C673.23,86.52 673.63,100.28 674.20,100.40 C674.77,100.52 675.63,86.47 676.10,83.40 C676.57,80.33 676.85,82.23 677.00,82.00" fill="none" stroke="#ff7f0e" stroke-width="1.5" stroke-linejoin="round"/>
<path d="M322.00,112.00 L322.80,114.90 L323.20,115.37 L323.70,126.60 L324.20,116.54 L324.50,116.89 L325.00,138.20 L325.50,118.07 L325.70,118.30 L327.80,105.33 L328.40,104.18 L328.70,104.12 L329.20,104.79 L330.00,107.88 L332.30,106.60 L332.60,106.98 L333.40,105.38 L333.70,105.32 L334.20,105.99 L335.10,109.64 L335.60,132.40 L336.10,112.27 L336.60,113.30 L339.50,116.00 L339.80,114.56 L340.30,137.40 L340.80,109.74 L341.10,108.30 L341.20,108.24 L342.30,103.78 L342.70,103.32 L343.00,103.38 L343.70,104.86 L344.30,107.52 L344.40,107.50 L345.10,108.30 L345.60,134.00 L346.10,109.43 L346.60,110.00 L347.70,108.30 L348.90,113.30 L349.70,113.80 L350.20,136.50 L350.70,114.43 L351.60,115.00 L352.70,118.30 L353.40,114.07 L353.90,137.40 L354.40,108.02 L356.00,99.89 L356.50,99.22 L356.80,99.28 L357.50,100.76 L357.80,101.98 L358.20,101.60 L359.30,110.00 L359.40,109.95 L359.90,131.00 L360.40,109.42 L361.00,109.10 L362.70,110.80 L362.80,110.64 L363.30,128.20 L363.80,109.08 L365.50,107.50 L366.50,110.00 L366.60,109.86 L367.10,137.40 L367.60,108.47 L368.60,107.30 L370.00,101.28 L370.40,100.82 L370.70,100.88 L371.40,102.36 L372.00,105.07 L372.10,105.00 L373.30,111.60 L373.80,132.40 L374.30,110.98 L374.60,110.80 L375.90,116.60 L376.60,113.69 L377.10,138.20 L377.60,109.54 L377.90,108.30 L382.70,106.67 L383.20,129.90 L383.70,102.98 L384.10,102.52 L384.40,102.58 L385.10,104.06 L385.70,106.60 L385.90,106.60 L387.60,111.60 L387.90,111.92 L388.40,130.70 L388.90,112.98 L389.20,113.30 L389.40,114.13 L389.90,138.20 L390.30,120.14 L390.40,118.30 L391.20,117.40 L391.30,117.06 L391.80,136.00 L392.30,113.65 L392.90,111.60 L393.70,110.80 L394.00,109.83 L394.50,134.90 L395.00,106.61 L397.20,88.93 L397.90,87.17 L398.20,87.00 L398.60,87.31 L399.60,90.78 L401.40,106.75 L401.80,107.20 L402.80,110.37 L403.30,131.80 L403.80,110.05 L406.60,108.20 L407.50,109.86 L408.60,93.90 L409.10,128.30 L409.60,82.71 L411.20,72.83 L411.80,71.68 L412.10,71.62 L412.60,72.29 L414.00,79.32 L414.10,80.11 L414.60,124.50 L415.00,92.91 L415.10,90.14 L416.60,112.42 L416.70,113.00 L418.10,109.10 L421.30,107.46 L422.90,87.71 L423.40,119.70 L423.90,80.38 L424.90,76.91 L425.30,76.60 L425.70,76.91 L426.70,80.38 L428.50,96.35 L429.00,123.50 L429.40,110.63 L429.50,110.50 L429.60,111.00 L430.50,107.20 L432.50,108.20 L434.40,106.20 L435.70,106.88 L436.80,93.22 L437.30,122.50 L437.80,84.35 L439.00,78.79 L439.50,78.12 L439.80,78.18 L440.50,79.66 L441.70,86.61 L442.20,122.50 L442.60,98.47 L442.70,96.64 L443.20,103.10 L443.40,103.40 L444.70,101.40 L445.20,101.66 L445.70,124.50 L446.20,102.19 L446.60,102.40 L448.00,100.50 L449.50,101.40 L449.60,101.56 L452.30,73.96 L453.20,71.01 L453.60,70.70 L454.00,71.01 L455.00,74.48 L455.70,79.21 L456.20,118.70 L456.60,91.47 L456.70,89.24 L457.60,101.56 L458.20,100.50 L458.60,100.29 L459.10,121.60 L459.60,99.76 L460.10,99.50 L461.40,96.60 L463.00,95.70 L463.10,96.02 L465.90,65.78 L466.90,62.31 L467.30,62.00 L467.70,62.31 L468.70,65.78 L471.40,94.04 L472.50,94.70 L473.10,104.00 L473.50,114.90 L474.20,100.00 L475.40,99.50 L475.90,100.76 L476.40,128.30 L476.90,99.75 L477.80,86.03 L478.30,126.40 L478.80,74.46 L480.50,63.63 L481.10,62.48 L481.40,62.42 L481.90,63.09 L483.10,68.65 L483.60,115.40 L484.00,80.79 L484.10,77.52 L485.50,96.00 L486.20,98.80 L486.70,112.40 L487.20,95.10 L488.00,89.50 L490.00,102.63 L490.50,124.90 L491.00,95.17 L491.70,84.50 L492.20,122.40 L492.70,72.54 L494.50,60.73 L495.10,59.58 L495.40,59.52 L495.90,60.19 L497.30,67.22 L497.80,71.56 L498.30,136.50 L498.70,87.88 L498.80,83.13 L499.50,93.53 L499.60,94.10 L500.00,93.20 L501.80,101.50 L503.70,93.20 L504.40,96.37 L504.50,96.32 L507.60,59.84 L508.60,55.98 L509.00,55.52 L509.30,55.58 L510.00,57.06 L511.60,67.56 L512.10,123.20 L512.50,82.84 L512.60,79.13 L513.90,99.09 L515.70,106.10 L516.20,105.80 L518.40,96.90 L518.90,97.16 L519.10,94.84 L519.20,95.94 L519.60,116.60 L520.10,81.72 L522.10,67.06 L522.80,65.58 L523.10,65.52 L523.60,66.19 L524.90,72.46 L525.40,117.40 L525.80,84.71 L525.90,81.72 L527.80,100.00 L528.20,101.01 L528.70,124.10 L529.20,103.54 L529.50,104.30 L529.90,102.97 L530.40,125.70 L530.90,99.66 L532.10,96.44 L535.00,65.18 L536.00,61.71 L536.40,61.40 L536.80,61.71 L537.80,65.18 L540.80,97.95 L541.50,100.92 L542.00,127.40 L542.40,106.32 L542.50,103.99 L542.60,104.30 L544.00,94.80 L544.50,136.50 L544.90,102.04 L545.00,98.49 L545.20,100.00 L545.70,137.00 L546.20,87.15 L549.20,53.58 L550.20,50.11 L550.60,49.80 L551.00,50.11 L552.00,53.58 L555.00,87.15 L555.10,88.86 L555.40,90.00 L555.60,90.00 L556.10,119.20 L556.60,90.00 L556.80,90.00 L557.20,86.90 L557.80,87.50 L558.30,131.00 L558.80,88.50 L559.90,88.04 L560.00,87.67 L562.90,55.78 L563.90,52.31 L564.30,52.00 L564.70,52.31 L565.70,55.78 L568.70,89.35 L569.00,94.61 L569.10,95.04 L569.40,95.20 L571.00,89.00 L572.10,90.20 L573.10,100.00 L573.30,100.00 L573.80,114.70 L574.30,86.35 L574.70,80.80 L575.20,117.00 L575.70,69.61 L577.30,59.73 L577.90,58.58 L578.20,58.52 L578.70,59.19 L580.10,66.22 L582.80,100.38 L583.20,100.10 L584.30,92.40 L585.40,89.00 L586.50,91.30 L587.40,101.28 L587.90,118.40 L588.40,90.20 L588.70,86.21 L589.20,119.90 L589.70,75.40 L591.30,66.15 L591.80,65.28 L592.10,65.22 L592.60,65.89 L594.00,72.92 L596.50,104.20 L597.00,105.70 L599.00,108.00 L599.10,107.63 L599.60,125.00 L600.10,103.94 L600.60,102.10 L602.50,101.15 L603.20,92.72 L603.70,115.80 L604.20,83.85 L605.40,78.29 L605.90,77.62 L606.20,77.68 L606.90,79.16 L608.90,93.82 L609.80,104.67 L610.90,110.00 L612.20,112.00 L612.80,110.80 L613.30,129.90 L613.80,108.80 L614.20,108.00 L615.00,104.10 L616.20,106.00 L616.70,104.93 L616.90,103.11 L617.00,103.77 L617.40,119.10 L617.90,92.30 L619.50,83.05 L620.00,82.18 L620.30,82.12 L620.80,82.79 L622.20,89.82 L622.80,95.14 L623.30,137.40 L623.80,104.62 L624.50,107.30 L625.40,104.10 L628.20,109.10 L629.70,109.20 L630.60,111.36 L630.70,111.35 L631.10,106.72 L631.60,132.40 L632.10,97.85 L633.30,92.29 L633.80,91.62 L634.10,91.68 L634.80,93.16 L636.90,108.75 L637.40,136.50 L637.90,111.25 L638.20,112.00 L639.00,110.80 L644.10,115.00 L644.20,114.95 L645.20,104.54 L645.70,135.70 L646.20,97.98 L647.00,95.51 L647.40,95.20 L647.80,95.51 L648.80,98.98 L650.20,110.32 L650.70,137.40 L651.20,113.84 L652.30,114.90 L653.60,113.10 L656.00,112.00 L657.60,114.00 L658.00,113.50 L658.50,134.00 L659.00,107.81 L660.60,97.93 L661.20,96.78 L661.50,96.72 L662.00,97.39 L663.40,104.42 L664.30,112.92 L664.80,137.40 L665.30,113.85 L665.50,114.00 L669.80,110.80 L671.60,114.00 L672.30,114.35 L672.80,136.50 L673.30,114.85 L676.40,114.10 L678.00,112.00" fill="none" stroke="#2ca02c" stroke-width="1.0" stroke-linejoin="round"/>
</g>
<rect x="322.5" y="7.5" width="355.0" height="131.0" fill="none" stroke="#000" stroke-width="0.7"/>
<line x1="322.50" y1="7.50" x2="322.50" y2="10.50" stroke="#000" stroke-width="0.7"/>
<line x1="322.50" y1="138.50" x2="322.50" y2="135.50" stroke="#000" stroke-width="0.7"/>
<line x1="366.88" y1="7.50" x2="366.88" y2="10.50" stroke="#000" stroke-width="0.7"/>
<line x1="366.88" y1="138.50" x2="366.88" y2="135.50" stroke="#000" stroke-width="0.7"/>
<line x1="411.25" y1="7.50" x2="411.25" y2="10.50" stroke="#000" stroke-width="0.7"/>
<line x1="411.25" y1="138.50" x2="411.25" y2="135.50" stroke="#000" stroke-width="0.7"/>
<line x1="455.62" y1="7.50" x2="455.62" y2="10.50" stroke="#000" stroke-width="0.7"/>
<line x1="455.62" y1="138.50" x2="455.62" y2="135.50" stroke="#000" stroke-width="0.7"/>
<line x1="500.00" y1="7.50" x2="500.00" y2="10.50" stroke="#000" stroke-width="0.7"/>
<line x1="500.00" y1="138.50" x2="500.00" y2="135.50" stroke="#000" stroke-width="0.7"/>
<line x1="544.38" y1="7.50" x2="544.38" y2="10.50" stroke="#000" stroke-width="0.7"/>
<line x1="544.38" y1="138.50" x2="544.38" y2="135.50" stroke="#000" stroke-width="0.7"/>
<line x1="588.75" y1="7.50" x2="588.75" y2="10.50" stroke="#000" stroke-width="0.7"/>
<line x1="588.75" y1="138.50" x2="588.75" y2="135.50" stroke="#000" stroke-width="0.7"/>
<line x1="633.12" y1="7.50" x2="633.12" y2="10.50" stroke="#000" stroke-width="0.7"/>
<line x1="633.12" y1="138.50" x2="633.12" y2="135.50" stroke="#000" stroke-width="0.7"/>
<line x1="677.50" y1="7.50" x2="677.50" y2="10.50" stroke="#000" stroke-width="0.7"/>
<line x1="677.50" y1="138.50" x2="677.50" y2="135.50" stroke="#000" stroke-width="0.7"/>
<line x1="322.50" y1="12.65" x2="325.70" y2="12.65" stroke="#000" stroke-width="0.7"/>
<line x1="677.50" y1="12.65" x2="674.30" y2="12.65" stroke="#000" stroke-width="0.7"/>
<line x1="322.50" y1="25.76" x2="324.30" y2="25.76" stroke="#444" stroke-width="0.4"/>
<line x1="677.50" y1="25.76" x2="675.70" y2="25.76" stroke="#444" stroke-width="0.4"/>
<line x1="322.50" y1="22.45" x2="324.30" y2="22.45" stroke="#444" stroke-width="0.4"/>
<line x1="677.50" y1="22.45" x2="675.70" y2="22.45" stroke="#444" stroke-width="0.4"/>
<line x1="322.50" y1="20.11" x2="324.30" y2="20.11" stroke="#444" stroke-width="0.4"/>
<line x1="677.50" y1="20.11" x2="675.70" y2="20.11" stroke="#444" stroke-width="0.4"/>
<line x1="322.50" y1="18.29" x2="324.30" y2="18.29" stroke="#444" stroke-width="0.4"/>
<line x1="677.50" y1="18.29" x2="675.70" y2="18.29" stroke="#444" stroke-width="0.4"/>
<line x1="322.50" y1="16.81" x2="324.30" y2="16.81" stroke="#444" stroke-width="0.4"/>
<line x1="677.50" y1="16.81" x2="675.70" y2="16.81" stroke="#444" stroke-width="0.4"/>
<line x1="322.50" y1="15.55" x2="324.30" y2="15.55" stroke="#444" stroke-width="0.4"/>
<line x1="677.50" y1="15.55" x2="675.70" y2="15.55" stroke="#444" stroke-width="0.4"/>
<line x1="322.50" y1="14.47" x2="324.30" y2="14.47" stroke="#444" stroke-width="0.4"/>
<line x1="677.50" y1="14.47" x2="675.70" y2="14.47" stroke="#444" stroke-width="0.4"/>
<line x1="322.50" y1="13.51" x2="324.30" y2="13.51" stroke="#444" stroke-width="0.4"/>
<line x1="677.50" y1="13.51" x2="675.70" y2="13.51" stroke="#444" stroke-width="0.4"/>
<line x1="322.50" y1="31.40" x2="325.70" y2="31.40" stroke="#000" stroke-width="0.7"/>
<line x1="677.50" y1="31.40" x2="674.30" y2="31.40" stroke="#000" stroke-width="0.7"/>
<line x1="322.50" y1="44.51" x2="324.30" y2="44.51" stroke="#444" stroke-width="0.4"/>
<line x1="677.50" y1="44.51" x2="675.70" y2="44.51" stroke="#444" stroke-width="0.4"/>
<line x1="322.50" y1="41.20" x2="324.30" y2="41.20" stroke="#444" stroke-width="0.4"/>
<line x1="677.50" y1="41.20" x2="675.70" y2="41.20" stroke="#444" stroke-width="0.4"/>
<line x1="322.50" y1="38.86" x2="324.30" y2="38.86" stroke="#444" stroke-width="0.4"/>
<line x1="677.50" y1="38.86" x2="675.70" y2="38.86" stroke="#444" stroke-width="0.4"/>
<line x1="322.50" y1="37.04" x2="324.30" y2="37.04" stroke="#444" stroke-width="0.4"/>
<line x1="677.50" y1="37.04" x2="675.70" y2="37.04" stroke="#444" stroke-width="0.4"/>
<line x1="322.50" y1="35.56" x2="324.30" y2="35.56" stroke="#444" stroke-width="0.4"/>
<line x1="677.50" y1="35.56" x2="675.70" y2="35.56" stroke="#444" stroke-width="0.4"/>
<line x1="322.50" y1="34.30" x2="324.30" y2="34.30" stroke="#444" stroke-width="0.4"/>
<line x1="677.50" y1="34.30" x2="675.70" y2="34.30" stroke="#444" stroke-width="0.4"/>
<line x1="322.50" y1="33.22" x2="324.30" y2="33.22" stroke="#444" stroke-width="0.4"/>
<line x1="677.50" y1="33.22" x2="675.70" y2="33.22" stroke="#444" stroke-width="0.4"/>
<line x1="322.50" y1="32.26" x2="324.30" y2="32.26" stroke="#444" stroke-width="0.4"/>
<line x1="677.50" y1="32.26" x2="675.70" y2="32.26" stroke="#444" stroke-width="0.4"/>
<line x1="322.50" y1="50.15" x2="325.70" y2="50.15" stroke="#000" stroke-width="0.7"/>
<line x1="677.50" y1="50.15" x2="674.30" y2="50.15" stroke="#000" stroke-width="0.7"/>
<line x1="322.50" y1="63.26" x2="324.30" y2="63.26" stroke="#444" stroke-width="0.4"/>
<line x1="677.50" y1="63.26" x2="675.70" y2="63.26" stroke="#444" stroke-width="0.4"/>
<line x1="322.50" y1="59.95" x2="324.30" y2="59.95" stroke="#444" stroke-width="0.4"/>
<line x1="677.50" y1="59.95" x2="675.70" y2="59.95" stroke="#444" stroke-width="0.4"/>
<line x1="322.50" y1="57.61" x2="324.30" y2="57.61" stroke="#444" stroke-width="0.4"/>
<line x1="677.50" y1="57.61" x2="675.70" y2="57.61" stroke="#444" stroke-width="0.4"/>
<line x1="322.50" y1="55.79" x2="324.30" y2="55.79" stroke="#444" stroke-width="0.4"/>
<line x1="677.50" y1="55.79" x2="675.70" y2="55.79" stroke="#444" stroke-width="0.4"/>
<line x1="322.50" y1="54.31" x2="324.30" y2="54.31" stroke="#444" stroke-width="0.4"/>
<line x1="677.50" y1="54.31" x2="675.70" y2="54.31" stroke="#444" stroke-width="0.4"/>
<line x1="322.50" y1="53.05" x2="324.30" y2="53.05" stroke="#444" stroke-width="0.4"/>
<line x1="677.50" y1="53.05" x2="675.70" y2="53.05" stroke="#444" stroke-width="0.4"/>
<line x1="322.50" y1="51.97" x2="324.30" y2="51.97" stroke="#444" stroke-width="0.4"/>
<line x1="677.50" y1="51.97" x2="675.70" y2="51.97" stroke="#444" stroke-width="0.4"/>
<line x1="322.50" y1="51.01" x2="324.30" y2="51.01" stroke="#444" stroke-width="0.4"/>
<line x1="677.50" y1="51.01" x2="675.70" y2="51.01" stroke="#444" stroke-width="0.4"/>
<line x1="322.50" y1="68.90" x2="325.70" y2="68.90" stroke="#000" stroke-width="0.7"/>
<line x1="677.50" y1="68.90" x2="674.30" y2="68.90" stroke="#000" stroke-width="0.7"/>
<line x1="322.50" y1="82.01" x2="324.30" y2="82.01" stroke="#444" stroke-width="0.4"/>
<line x1="677.50" y1="82.01" x2="675.70" y2="82.01" stroke="#444" stroke-width="0.4"/>
<line x1="322.50" y1="78.70" x2="324.30" y2="78.70" stroke="#444" stroke-width="0.4"/>
<line x1="677.50" y1="78.70" x2="675.70" y2="78.70" stroke="#444" stroke-width="0.4"/>
<line x1="322.50" y1="76.36" x2="324.30" y2="76.36" stroke="#444" stroke-width="0.4"/>
<line x1="677.50" y1="76.36" x2="675.70" y2="76.36" stroke="#444" stroke-width="0.4"/>
<line x1="322.50" y1="74.54" x2="324.30" y2="74.54" stroke="#444" stroke-width="0.4"/>
<line x1="677.50" y1="74.54" x2="675.70" y2="74.54" stroke="#444" stroke-width="0.4"/>
<line x1="322.50" y1="73.06" x2="324.30" y2="73.06" stroke="#444" stroke-width="0.4"/>
<line x1="677.50" y1="73.06" x2="675.70" y2="73.06" stroke="#444" stroke-width="0.4"/>
<line x1="322.50" y1="71.80" x2="324.30" y2="71.80" stroke="#444" stroke-width="0.4"/>
<line x1="677.50" y1="71.80" x2="675.70" y2="71.80" stroke="#444" stroke-width="0.4"/>
<line x1="322.50" y1="70.72" x2="324.30" y2="70.72" stroke="#444" stroke-width="0.4"/>
<line x1="677.50" y1="70.72" x2="675.70" y2="70.72" stroke="#444" stroke-width="0.4"/>
<line x1="322.50" y1="69.76" x2="324.30" y2="69.76" stroke="#444" stroke-width="0.4"/>
<line x1="677.50" y1="69.76" x2="675.70" y2="69.76" stroke="#444" stroke-width="0.4"/>
<line x1="322.50" y1="87.65" x2="325.70" y2="87.65" stroke="#000" stroke-width="0.7"/>
<line x1="677.50" y1="87.65" x2="674.30" y2="87.65" stroke="#000" stroke-width="0.7"/>
<line x1="322.50" y1="100.76" x2="324.30" y2="100.76" stroke="#444" stroke-width="0.4"/>
<line x1="677.50" y1="100.76" x2="675.70" y2="100.76" stroke="#444" stroke-width="0.4"/>
<line x1="322.50" y1="97.45" x2="324.30" y2="97.45" stroke="#444" stroke-width="0.4"/>
<line x1="677.50" y1="97.45" x2="675.70" y2="97.45" stroke="#444" stroke-width="0.4"/>
<line x1="322.50" y1="95.11" x2="324.30" y2="95.11" stroke="#444" stroke-width="0.4"/>
<line x1="677.50" y1="95.11" x2="675.70" y2="95.11" stroke="#444" stroke-width="0.4"/>
<line x1="322.50" y1="93.29" x2="324.30" y2="93.29" stroke="#444" stroke-width="0.4"/>
<line x1="677.50" y1="93.29" x2="675.70" y2="93.29" stroke="#444" stroke-width="0.4"/>
<line x1="322.50" y1="91.81" x2="324.30" y2="91.81" stroke="#444" stroke-width="0.4"/>
<line x1="677.50" y1="91.81" x2="675.70" y2="91.81" stroke="#444" stroke-width="0.4"/>
<line x1="322.50" y1="90.55" x2="324.30" y2="90.55" stroke="#444" stroke-width="0.4"/>
<line x1="677.50" y1="90.55" x2="675.70" y2="90.55" stroke="#444" stroke-width="0.4"/>
<line x1="322.50" y1="89.47" x2="324.30" y2="89.47" stroke="#444" stroke-width="0.4"/>
<line x1="677.50" y1="89.47" x2="675.70" y2="89.47" stroke="#444" stroke-width="0.4"/>
<line x1="322.50" y1="88.51" x2="324.30" y2="88.51" stroke="#444" stroke-width="0.4"/>
<line x1="677.50" y1="88.51" x2="675.70" y2="88.51" stroke="#444" stroke-width="0.4"/>
<line x1="322.50" y1="106.40" x2="325.70" y2="106.40" stroke="#000" stroke-width="0.7"/>
<line x1="677.50" y1="106.40" x2="674.30" y2="106.40" stroke="#000" stroke-width="0.7"/>
<line x1="322.50" y1="119.51" x2="324.30" y2="119.51" stroke="#444" stroke-width="0.4"/>
<line x1="677.50" y1="119.51" x2="675.70" y2="119.51" stroke="#444" stroke-width="0.4"/>
<line x1="322.50" y1="116.20" x2="324.30" y2="116.20" stroke="#444" stroke-width="0.4"/>
<line x1="677.50" y1="116.20" x2="675.70" y2="116.20" stroke="#444" stroke-width="0.4"/>
<line x1="322.50" y1="113.86" x2="324.30" y2="113.86" stroke="#444" stroke-width="0.4"/>
<line x1="677.50" y1="113.86" x2="675.70" y2="113.86" stroke="#444" stroke-width="0.4"/>
<line x1="322.50" y1="112.04" x2="324.30" y2="112.04" stroke="#444" stroke-width="0.4"/>
<line x1="677.50" y1="112.04" x2="675.70" y2="112.04" stroke="#444" stroke-width="0.4"/>
<line x1="322.50" y1="110.56" x2="324.30" y2="110.56" stroke="#444" stroke-width="0.4"/>
<line x1="677.50" y1="110.56" x2="675.70" y2="110.56" stroke="#444" stroke-width="0.4"/>
<line x1="322.50" y1="109.30" x2="324.30" y2="109.30" stroke="#444" stroke-width="0.4"/>
<line x1="677.50" y1="109.30" x2="675.70" y2="109.30" stroke="#444" stroke-width="0.4"/>
<line x1="322.50" y1="108.22" x2="324.30" y2="108.22" stroke="#444" stroke-width="0.4"/>
<line x1="677.50" y1="108.22" x2="675.70" y2="108.22" stroke="#444" stroke-width="0.4"/>
<line x1="322.50" y1="107.26" x2="324.30" y2="107.26" stroke="#444" stroke-width="0.4"/>
<line x1="677.50" y1="107.26" x2="675.70" y2="107.26" stroke="#444" stroke-width="0.4"/>
<line x1="322.50" y1="125.15" x2="325.70" y2="125.15" stroke="#000" stroke-width="0.7"/>
<line x1="677.50" y1="125.15" x2="674.30" y2="125.15" stroke="#000" stroke-width="0.7"/>
<line x1="322.50" y1="138.26" x2="324.30" y2="138.26" stroke="#444" stroke-width="0.4"/>
<line x1="677.50" y1="138.26" x2="675.70" y2="138.26" stroke="#444" stroke-width="0.4"/>
<line x1="322.50" y1="134.95" x2="324.30" y2="134.95" stroke="#444" stroke-width="0.4"/>
<line x1="677.50" y1="134.95" x2="675.70" y2="134.95" stroke="#444" stroke-width="0.4"/>
<line x1="322.50" y1="132.61" x2="324.30" y2="132.61" stroke="#444" stroke-width="0.4"/>
<line x1="677.50" y1="132.61" x2="675.70" y2="132.61" stroke="#444" stroke-width="0.4"/>
<line x1="322.50" y1="130.79" x2="324.30" y2="130.79" stroke="#444" stroke-width="0.4"/>
<line x1="677.50" y1="130.79" x2="675.70" y2="130.79" stroke="#444" stroke-width="0.4"/>
<line x1="322.50" y1="129.31" x2="324.30" y2="129.31" stroke="#444" stroke-width="0.4"/>
<line x1="677.50" y1="129.31" x2="675.70" y2="129.31" stroke="#444" stroke-width="0.4"/>
<line x1="322.50" y1="128.05" x2="324.30" y2="128.05" stroke="#444" stroke-width="0.4"/>
<line x1="677.50" y1="128.05" x2="675.70" y2="128.05" stroke="#444" stroke-width="0.4"/>
<line x1="322.50" y1="126.97" x2="324.30" y2="126.97" stroke="#444" stroke-width="0.4"/>
<line x1="677.50" y1="126.97" x2="675.70" y2="126.97" stroke="#444" stroke-width="0.4"/>
<line x1="322.50" y1="126.01" x2="324.30" y2="126.01" stroke="#444" stroke-width="0.4"/>
<line x1="677.50" y1="126.01" x2="675.70" y2="126.01" stroke="#444" stroke-width="0.4"/>
<line x1="411.70" y1="16.50" x2="606.60" y2="16.50" stroke="#ff7878" stroke-width="1.0"/>
<line x1="411.70" y1="40.50" x2="606.60" y2="40.50" stroke="#ff7878" stroke-width="1.0"/>
<line x1="411.9" y1="28.4" x2="606.6" y2="28.4" stroke="#555" stroke-width="1.0" stroke-dasharray="3.65,1.4"/>
<circle cx="418.2" cy="26.599999999999998" r="2.3" fill="#ff0000"/>
<circle cx="432.1" cy="30.8" r="2.3" fill="#ff0000"/>
<circle cx="446" cy="18.9" r="2.3" fill="#ff0000"/>
<circle cx="459.9" cy="36.400000000000006" r="2.3" fill="#ff0000"/>
<circle cx="473.7" cy="27.599999999999998" r="2.3" fill="#ff0000"/>
<circle cx="487.6" cy="21.4" r="2.3" fill="#ff0000"/>
<circle cx="501.6" cy="24.4" r="2.3" fill="#ff0000"/>
<circle cx="515.4" cy="28.5" r="2.3" fill="#ff0000"/>
<circle cx="529.3" cy="32.2" r="2.3" fill="#ff0000"/>
<circle cx="543.2" cy="21.5" r="2.3" fill="#ff0000"/>
<circle cx="557" cy="36.400000000000006" r="2.3" fill="#ff0000"/>
<circle cx="570.9" cy="20.0" r="2.3" fill="#ff0000"/>
<circle cx="584.8" cy="36.800000000000004" r="2.3" fill="#ff0000"/>
<circle cx="598.5" cy="36.800000000000004" r="2.3" fill="#ff0000"/>
<text x="610.10" y="19.30" font-size="10" fill="#ff0000" stroke="#ff0000" stroke-width="0.15" textLength="4.50" lengthAdjust="spacingAndGlyphs" font-style="italic">π</text>
<text x="610.10" y="31.20" font-size="9.4" fill="#000" stroke="#000" stroke-width="0.15" textLength="9.90" lengthAdjust="spacingAndGlyphs" font-style="italic">Δϕ</text>
<text x="610.10" y="42.60" font-size="10" fill="#ff0000" stroke="#ff0000" stroke-width="0.15" textLength="10.80" lengthAdjust="spacingAndGlyphs" font-style="italic">−π</text>
<rect x="326.7" y="41.9" width="95.5" height="24" rx="2" ry="2" fill="#fff" fill-opacity="0.85" stroke="#d0d0d0" stroke-width="0.8"/>
<line x1="329.20" y1="47.90" x2="345.50" y2="47.90" stroke="#ff7f0e" stroke-width="1.5"/>
<line x1="329.20" y1="59.50" x2="345.50" y2="59.50" stroke="#2ca02c" stroke-width="1.0"/>
<text x="350.70" y="50.80" font-size="8.8" fill="#000" stroke="#000" stroke-width="0.15" textLength="57.70" lengthAdjust="spacingAndGlyphs">SWIFT spectrum</text>
<text x="350.70" y="62.10" font-size="8.8" fill="#000" stroke="#000" stroke-width="0.15" textLength="68.30" lengthAdjust="spacingAndGlyphs">Spectrum Product</text>
<text x="600.20" y="54.70" font-size="8.4" fill="#000" stroke="#000" stroke-width="0.15" textLength="2.80" lengthAdjust="spacingAndGlyphs">f</text>
<text x="603.00" y="56.30" font-size="5.9" fill="#000" stroke="#000" stroke-width="0.15" textLength="7.30" lengthAdjust="spacingAndGlyphs">inj</text>
<text x="611.40" y="54.20" font-size="8.4" fill="#000" stroke="#000" stroke-width="0.15" textLength="5.00" lengthAdjust="spacingAndGlyphs">=</text>
<text x="617.10" y="54.70" font-size="8.4" fill="#000" stroke="#000" stroke-width="0.15" textLength="38.70" lengthAdjust="spacingAndGlyphs">7.827 GHz</text>
<text x="600.20" y="65.90" font-size="8.4" fill="#000" stroke="#000" stroke-width="0.15" textLength="2.80" lengthAdjust="spacingAndGlyphs">f</text>
<text x="603.00" y="67.50" font-size="5.9" fill="#000" stroke="#000" stroke-width="0.15" textLength="8.10" lengthAdjust="spacingAndGlyphs">rep</text>
<text x="611.40" y="65.40" font-size="8.4" fill="#000" stroke="#000" stroke-width="0.15" textLength="5.20" lengthAdjust="spacingAndGlyphs">=</text>
<text x="617.50" y="65.90" font-size="8.4" fill="#000" stroke="#000" stroke-width="0.15" textLength="42.40" lengthAdjust="spacingAndGlyphs">15.655 GHz</text>
<text x="306.70" y="6.90" font-size="9.2" fill="#000" stroke="#000" stroke-width="0.15" textLength="7.80" lengthAdjust="spacingAndGlyphs">c)</text>
<text transform="translate(317.20,71.30) rotate(-90)" x="0" y="0" text-anchor="middle" font-size="8.4" fill="#000" stroke="#000" stroke-width="0.15" textLength="71.80" lengthAdjust="spacingAndGlyphs">Spectrum (arb. units)</text>
<text x="314.00" y="145.90" font-size="8.4" fill="#000" stroke="#000" stroke-width="0.15" textLength="17.00" lengthAdjust="spacingAndGlyphs">2.60</text>
<text x="358.38" y="145.90" font-size="8.4" fill="#000" stroke="#000" stroke-width="0.15" textLength="17.00" lengthAdjust="spacingAndGlyphs">2.65</text>
<text x="402.75" y="145.90" font-size="8.4" fill="#000" stroke="#000" stroke-width="0.15" textLength="17.00" lengthAdjust="spacingAndGlyphs">2.70</text>
<text x="447.12" y="145.90" font-size="8.4" fill="#000" stroke="#000" stroke-width="0.15" textLength="17.00" lengthAdjust="spacingAndGlyphs">2.75</text>
<text x="491.50" y="145.90" font-size="8.4" fill="#000" stroke="#000" stroke-width="0.15" textLength="17.00" lengthAdjust="spacingAndGlyphs">2.80</text>
<text x="535.88" y="145.90" font-size="8.4" fill="#000" stroke="#000" stroke-width="0.15" textLength="17.00" lengthAdjust="spacingAndGlyphs">2.85</text>
<text x="580.25" y="145.90" font-size="8.4" fill="#000" stroke="#000" stroke-width="0.15" textLength="17.00" lengthAdjust="spacingAndGlyphs">2.90</text>
<text x="624.62" y="145.90" font-size="8.4" fill="#000" stroke="#000" stroke-width="0.15" textLength="17.00" lengthAdjust="spacingAndGlyphs">2.95</text>
<text x="669.00" y="145.90" font-size="8.4" fill="#000" stroke="#000" stroke-width="0.15" textLength="17.00" lengthAdjust="spacingAndGlyphs">3.00</text>
<text x="468.80" y="155.90" font-size="8.4" fill="#000" stroke="#000" stroke-width="0.15" textLength="62.20" lengthAdjust="spacingAndGlyphs">Frequency (THz)</text>
</g>
<g>
<line x1="322.50" y1="172.10" x2="677.00" y2="172.10" stroke="#b0b0b0" stroke-width="0.6"/>
<line x1="322.50" y1="211.80" x2="677.00" y2="211.80" stroke="#b0b0b0" stroke-width="0.6"/>
<line x1="381.90" y1="164.60" x2="381.90" y2="251.50" stroke="#b0b0b0" stroke-width="0.6"/>
<line x1="500.00" y1="164.60" x2="500.00" y2="251.50" stroke="#b0b0b0" stroke-width="0.6"/>
<line x1="618.10" y1="164.60" x2="618.10" y2="251.50" stroke="#b0b0b0" stroke-width="0.6"/>
<g clip-path="url(#clipd)">
<path d="M263.80,172.10 C264.05,172.23 264.78,172.12 265.30,172.90 C265.82,173.68 266.42,175.53 266.90,176.80 C267.38,178.07 267.78,179.02 268.20,180.50 C268.62,181.98 269.05,184.03 269.40,185.70 C269.75,187.37 270.00,188.78 270.30,190.50 C270.60,192.22 270.83,193.98 271.20,196.00 C271.57,198.02 272.05,200.38 272.50,202.60 C272.95,204.82 273.40,207.30 273.90,209.30 C274.40,211.30 274.95,213.38 275.50,214.60 C276.05,215.82 276.65,216.35 277.20,216.60 C277.75,216.85 278.25,216.25 278.80,216.10 C279.35,215.95 279.77,215.40 280.50,215.70 C281.23,216.00 282.32,216.75 283.20,217.90 C284.08,219.05 284.92,220.60 285.80,222.60 C286.68,224.60 287.63,227.33 288.50,229.90 C289.37,232.47 290.20,235.82 291.00,238.00 C291.80,240.18 292.63,243.00 293.30,243.00 C293.97,243.00 294.42,240.03 295.00,238.00 C295.58,235.97 296.25,233.63 296.80,230.80 C297.35,227.97 297.80,223.48 298.30,221.00 C298.80,218.52 299.33,218.30 299.80,215.90 C300.27,213.50 300.53,208.75 301.10,206.60 C301.67,204.45 302.58,203.35 303.20,203.00 C303.82,202.65 304.28,203.38 304.80,204.50 C305.32,205.62 305.52,205.50 306.30,209.70 C307.08,213.90 308.27,223.73 309.50,229.70 C310.73,235.67 312.65,242.02 313.70,245.50 C314.75,248.98 315.00,252.00 315.80,250.60 C316.60,249.20 317.75,241.10 318.50,237.10 C319.25,233.10 319.48,230.98 320.30,226.60 C321.12,222.22 322.47,214.23 323.40,210.80 C324.33,207.37 325.02,206.18 325.90,206.00 C326.78,205.82 327.72,208.20 328.70,209.70 C329.68,211.20 330.58,214.37 331.80,215.00 C333.02,215.63 334.77,212.27 336.00,213.50 C337.23,214.73 338.13,218.12 339.20,222.40 C340.27,226.68 341.35,234.82 342.40,239.20 C343.45,243.58 344.52,246.80 345.50,248.70 C346.48,250.60 347.25,250.85 348.30,250.60 C349.35,250.35 350.68,248.22 351.80,247.20 C352.92,246.18 353.93,244.43 355.00,244.50 C356.07,244.57 357.15,246.58 358.20,247.60 C359.25,248.62 360.33,250.93 361.30,250.60 C362.27,250.27 363.17,247.32 364.00,245.60 C364.83,243.88 365.73,241.68 366.30,240.30 C366.87,238.92 366.67,239.58 367.40,237.30 C368.13,235.02 369.73,230.90 370.70,226.60 C371.67,222.30 372.68,215.02 373.20,211.50 C373.72,207.98 373.48,208.25 373.80,205.50 C374.12,202.75 374.73,197.50 375.10,195.00 C375.47,192.50 375.78,192.05 376.00,190.50 C376.22,188.95 376.15,187.37 376.40,185.70 C376.65,184.03 377.10,181.98 377.50,180.50 C377.90,179.02 378.32,178.07 378.80,176.80 C379.28,175.53 379.88,173.68 380.40,172.90 C380.92,172.12 381.40,172.10 381.90,172.10 C382.40,172.10 382.88,172.12 383.40,172.90 C383.92,173.68 384.52,175.53 385.00,176.80 C385.48,178.07 385.88,179.02 386.30,180.50 C386.72,181.98 387.15,184.03 387.50,185.70 C387.85,187.37 388.10,188.78 388.40,190.50 C388.70,192.22 388.93,193.98 389.30,196.00 C389.67,198.02 390.15,200.38 390.60,202.60 C391.05,204.82 391.50,207.30 392.00,209.30 C392.50,211.30 393.05,213.38 393.60,214.60 C394.15,215.82 394.75,216.35 395.30,216.60 C395.85,216.85 396.35,216.25 396.90,216.10 C397.45,215.95 397.87,215.40 398.60,215.70 C399.33,216.00 400.42,216.75 401.30,217.90 C402.18,219.05 403.02,220.60 403.90,222.60 C404.78,224.60 405.73,227.33 406.60,229.90 C407.47,232.47 408.30,235.82 409.10,238.00 C409.90,240.18 410.73,243.00 411.40,243.00 C412.07,243.00 412.52,240.03 413.10,238.00 C413.68,235.97 414.35,233.63 414.90,230.80 C415.45,227.97 415.90,223.48 416.40,221.00 C416.90,218.52 417.43,218.30 417.90,215.90 C418.37,213.50 418.63,208.75 419.20,206.60 C419.77,204.45 420.68,203.35 421.30,203.00 C421.92,202.65 422.38,203.38 422.90,204.50 C423.42,205.62 423.62,205.50 424.40,209.70 C425.18,213.90 426.37,223.73 427.60,229.70 C428.83,235.67 430.75,242.02 431.80,245.50 C432.85,248.98 433.10,252.00 433.90,250.60 C434.70,249.20 435.85,241.10 436.60,237.10 C437.35,233.10 437.58,230.98 438.40,226.60 C439.22,222.22 440.57,214.23 441.50,210.80 C442.43,207.37 443.12,206.18 444.00,206.00 C444.88,205.82 445.82,208.20 446.80,209.70 C447.78,211.20 448.68,214.37 449.90,215.00 C451.12,215.63 452.87,212.27 454.10,213.50 C455.33,214.73 456.23,218.12 457.30,222.40 C458.37,226.68 459.45,234.82 460.50,239.20 C461.55,243.58 462.62,246.80 463.60,248.70 C464.58,250.60 465.35,250.85 466.40,250.60 C467.45,250.35 468.78,248.22 469.90,247.20 C471.02,246.18 472.03,244.43 473.10,244.50 C474.17,244.57 475.25,246.58 476.30,247.60 C477.35,248.62 478.43,250.93 479.40,250.60 C480.37,250.27 481.27,247.32 482.10,245.60 C482.93,243.88 483.83,241.68 484.40,240.30 C484.97,238.92 484.77,239.58 485.50,237.30 C486.23,235.02 487.83,230.90 488.80,226.60 C489.77,222.30 490.78,215.02 491.30,211.50 C491.82,207.98 491.58,208.25 491.90,205.50 C492.22,202.75 492.83,197.50 493.20,195.00 C493.57,192.50 493.88,192.05 494.10,190.50 C494.32,188.95 494.25,187.37 494.50,185.70 C494.75,184.03 495.20,181.98 495.60,180.50 C496.00,179.02 496.42,178.07 496.90,176.80 C497.38,175.53 497.98,173.68 498.50,172.90 C499.02,172.12 499.50,172.10 500.00,172.10 C500.50,172.10 500.98,172.12 501.50,172.90 C502.02,173.68 502.62,175.53 503.10,176.80 C503.58,178.07 503.98,179.02 504.40,180.50 C504.82,181.98 505.25,184.03 505.60,185.70 C505.95,187.37 506.20,188.78 506.50,190.50 C506.80,192.22 507.03,193.98 507.40,196.00 C507.77,198.02 508.25,200.38 508.70,202.60 C509.15,204.82 509.60,207.30 510.10,209.30 C510.60,211.30 511.15,213.38 511.70,214.60 C512.25,215.82 512.85,216.35 513.40,216.60 C513.95,216.85 514.45,216.25 515.00,216.10 C515.55,215.95 515.97,215.40 516.70,215.70 C517.43,216.00 518.52,216.75 519.40,217.90 C520.28,219.05 521.12,220.60 522.00,222.60 C522.88,224.60 523.83,227.33 524.70,229.90 C525.57,232.47 526.40,235.82 527.20,238.00 C528.00,240.18 528.83,243.00 529.50,243.00 C530.17,243.00 530.62,240.03 531.20,238.00 C531.78,235.97 532.45,233.63 533.00,230.80 C533.55,227.97 534.00,223.48 534.50,221.00 C535.00,218.52 535.53,218.30 536.00,215.90 C536.47,213.50 536.73,208.75 537.30,206.60 C537.87,204.45 538.78,203.35 539.40,203.00 C540.02,202.65 540.48,203.38 541.00,204.50 C541.52,205.62 541.72,205.50 542.50,209.70 C543.28,213.90 544.47,223.73 545.70,229.70 C546.93,235.67 548.85,242.02 549.90,245.50 C550.95,248.98 551.20,252.00 552.00,250.60 C552.80,249.20 553.95,241.10 554.70,237.10 C555.45,233.10 555.68,230.98 556.50,226.60 C557.32,222.22 558.67,214.23 559.60,210.80 C560.53,207.37 561.22,206.18 562.10,206.00 C562.98,205.82 563.92,208.20 564.90,209.70 C565.88,211.20 566.78,214.37 568.00,215.00 C569.22,215.63 570.97,212.27 572.20,213.50 C573.43,214.73 574.33,218.12 575.40,222.40 C576.47,226.68 577.55,234.82 578.60,239.20 C579.65,243.58 580.72,246.80 581.70,248.70 C582.68,250.60 583.45,250.85 584.50,250.60 C585.55,250.35 586.88,248.22 588.00,247.20 C589.12,246.18 590.13,244.43 591.20,244.50 C592.27,244.57 593.35,246.58 594.40,247.60 C595.45,248.62 596.53,250.93 597.50,250.60 C598.47,250.27 599.37,247.32 600.20,245.60 C601.03,243.88 601.93,241.68 602.50,240.30 C603.07,238.92 602.87,239.58 603.60,237.30 C604.33,235.02 605.93,230.90 606.90,226.60 C607.87,222.30 608.88,215.02 609.40,211.50 C609.92,207.98 609.68,208.25 610.00,205.50 C610.32,202.75 610.93,197.50 611.30,195.00 C611.67,192.50 611.98,192.05 612.20,190.50 C612.42,188.95 612.35,187.37 612.60,185.70 C612.85,184.03 613.30,181.98 613.70,180.50 C614.10,179.02 614.52,178.07 615.00,176.80 C615.48,175.53 616.08,173.68 616.60,172.90 C617.12,172.12 617.60,172.10 618.10,172.10 C618.60,172.10 619.08,172.12 619.60,172.90 C620.12,173.68 620.72,175.53 621.20,176.80 C621.68,178.07 622.08,179.02 622.50,180.50 C622.92,181.98 623.35,184.03 623.70,185.70 C624.05,187.37 624.30,188.78 624.60,190.50 C624.90,192.22 625.13,193.98 625.50,196.00 C625.87,198.02 626.35,200.38 626.80,202.60 C627.25,204.82 627.70,207.30 628.20,209.30 C628.70,211.30 629.25,213.38 629.80,214.60 C630.35,215.82 630.95,216.35 631.50,216.60 C632.05,216.85 632.55,216.25 633.10,216.10 C633.65,215.95 634.07,215.40 634.80,215.70 C635.53,216.00 636.62,216.75 637.50,217.90 C638.38,219.05 639.22,220.60 640.10,222.60 C640.98,224.60 641.93,227.33 642.80,229.90 C643.67,232.47 644.50,235.82 645.30,238.00 C646.10,240.18 646.93,243.00 647.60,243.00 C648.27,243.00 648.72,240.03 649.30,238.00 C649.88,235.97 650.55,233.63 651.10,230.80 C651.65,227.97 652.10,223.48 652.60,221.00 C653.10,218.52 653.63,218.30 654.10,215.90 C654.57,213.50 654.83,208.75 655.40,206.60 C655.97,204.45 656.88,203.35 657.50,203.00 C658.12,202.65 658.58,203.38 659.10,204.50 C659.62,205.62 659.82,205.50 660.60,209.70 C661.38,213.90 662.57,223.73 663.80,229.70 C665.03,235.67 666.95,242.02 668.00,245.50 C669.05,248.98 669.30,252.00 670.10,250.60 C670.90,249.20 672.05,241.10 672.80,237.10 C673.55,233.10 673.78,230.98 674.60,226.60 C675.42,222.22 676.77,214.23 677.70,210.80 C678.63,207.37 679.32,206.18 680.20,206.00 C681.08,205.82 682.02,208.20 683.00,209.70 C683.98,211.20 684.88,214.37 686.10,215.00 C687.32,215.63 689.07,212.27 690.30,213.50 C691.53,214.73 692.43,218.12 693.50,222.40 C694.57,226.68 695.65,234.82 696.70,239.20 C697.75,243.58 698.82,246.80 699.80,248.70 C700.78,250.60 701.55,250.85 702.60,250.60 C703.65,250.35 704.98,248.22 706.10,247.20 C707.22,246.18 708.23,244.43 709.30,244.50 C710.37,244.57 711.45,246.58 712.50,247.60 C713.55,248.62 714.63,250.93 715.60,250.60 C716.57,250.27 717.47,247.32 718.30,245.60 C719.13,243.88 720.03,241.68 720.60,240.30 C721.17,238.92 720.97,239.58 721.70,237.30 C722.43,235.02 724.03,230.90 725.00,226.60 C725.97,222.30 726.98,215.02 727.50,211.50 C728.02,207.98 727.78,208.25 728.10,205.50 C728.42,202.75 729.03,197.50 729.40,195.00 C729.77,192.50 730.08,192.05 730.30,190.50 C730.52,188.95 730.45,187.37 730.70,185.70 C730.95,184.03 731.40,181.98 731.80,180.50 C732.20,179.02 732.62,178.07 733.10,176.80 C733.58,175.53 734.43,173.55 734.70,172.90 L734.70,251.5 L263.80,251.5 Z" fill="#0000ff" fill-opacity="0.3" stroke="none"/>
<path d="M263.80,172.10 C264.05,172.23 264.78,172.12 265.30,172.90 C265.82,173.68 266.42,175.53 266.90,176.80 C267.38,178.07 267.78,179.02 268.20,180.50 C268.62,181.98 269.05,184.03 269.40,185.70 C269.75,187.37 270.00,188.78 270.30,190.50 C270.60,192.22 270.83,193.98 271.20,196.00 C271.57,198.02 272.05,200.38 272.50,202.60 C272.95,204.82 273.40,207.30 273.90,209.30 C274.40,211.30 274.95,213.38 275.50,214.60 C276.05,215.82 276.65,216.35 277.20,216.60 C277.75,216.85 278.25,216.25 278.80,216.10 C279.35,215.95 279.77,215.40 280.50,215.70 C281.23,216.00 282.32,216.75 283.20,217.90 C284.08,219.05 284.92,220.60 285.80,222.60 C286.68,224.60 287.63,227.33 288.50,229.90 C289.37,232.47 290.20,235.82 291.00,238.00 C291.80,240.18 292.63,243.00 293.30,243.00 C293.97,243.00 294.42,240.03 295.00,238.00 C295.58,235.97 296.25,233.63 296.80,230.80 C297.35,227.97 297.80,223.48 298.30,221.00 C298.80,218.52 299.33,218.30 299.80,215.90 C300.27,213.50 300.53,208.75 301.10,206.60 C301.67,204.45 302.58,203.35 303.20,203.00 C303.82,202.65 304.28,203.38 304.80,204.50 C305.32,205.62 305.52,205.50 306.30,209.70 C307.08,213.90 308.27,223.73 309.50,229.70 C310.73,235.67 312.65,242.02 313.70,245.50 C314.75,248.98 315.00,252.00 315.80,250.60 C316.60,249.20 317.75,241.10 318.50,237.10 C319.25,233.10 319.48,230.98 320.30,226.60 C321.12,222.22 322.47,214.23 323.40,210.80 C324.33,207.37 325.02,206.18 325.90,206.00 C326.78,205.82 327.72,208.20 328.70,209.70 C329.68,211.20 330.58,214.37 331.80,215.00 C333.02,215.63 334.77,212.27 336.00,213.50 C337.23,214.73 338.13,218.12 339.20,222.40 C340.27,226.68 341.35,234.82 342.40,239.20 C343.45,243.58 344.52,246.80 345.50,248.70 C346.48,250.60 347.25,250.85 348.30,250.60 C349.35,250.35 350.68,248.22 351.80,247.20 C352.92,246.18 353.93,244.43 355.00,244.50 C356.07,244.57 357.15,246.58 358.20,247.60 C359.25,248.62 360.33,250.93 361.30,250.60 C362.27,250.27 363.17,247.32 364.00,245.60 C364.83,243.88 365.73,241.68 366.30,240.30 C366.87,238.92 366.67,239.58 367.40,237.30 C368.13,235.02 369.73,230.90 370.70,226.60 C371.67,222.30 372.68,215.02 373.20,211.50 C373.72,207.98 373.48,208.25 373.80,205.50 C374.12,202.75 374.73,197.50 375.10,195.00 C375.47,192.50 375.78,192.05 376.00,190.50 C376.22,188.95 376.15,187.37 376.40,185.70 C376.65,184.03 377.10,181.98 377.50,180.50 C377.90,179.02 378.32,178.07 378.80,176.80 C379.28,175.53 379.88,173.68 380.40,172.90 C380.92,172.12 381.40,172.10 381.90,172.10 C382.40,172.10 382.88,172.12 383.40,172.90 C383.92,173.68 384.52,175.53 385.00,176.80 C385.48,178.07 385.88,179.02 386.30,180.50 C386.72,181.98 387.15,184.03 387.50,185.70 C387.85,187.37 388.10,188.78 388.40,190.50 C388.70,192.22 388.93,193.98 389.30,196.00 C389.67,198.02 390.15,200.38 390.60,202.60 C391.05,204.82 391.50,207.30 392.00,209.30 C392.50,211.30 393.05,213.38 393.60,214.60 C394.15,215.82 394.75,216.35 395.30,216.60 C395.85,216.85 396.35,216.25 396.90,216.10 C397.45,215.95 397.87,215.40 398.60,215.70 C399.33,216.00 400.42,216.75 401.30,217.90 C402.18,219.05 403.02,220.60 403.90,222.60 C404.78,224.60 405.73,227.33 406.60,229.90 C407.47,232.47 408.30,235.82 409.10,238.00 C409.90,240.18 410.73,243.00 411.40,243.00 C412.07,243.00 412.52,240.03 413.10,238.00 C413.68,235.97 414.35,233.63 414.90,230.80 C415.45,227.97 415.90,223.48 416.40,221.00 C416.90,218.52 417.43,218.30 417.90,215.90 C418.37,213.50 418.63,208.75 419.20,206.60 C419.77,204.45 420.68,203.35 421.30,203.00 C421.92,202.65 422.38,203.38 422.90,204.50 C423.42,205.62 423.62,205.50 424.40,209.70 C425.18,213.90 426.37,223.73 427.60,229.70 C428.83,235.67 430.75,242.02 431.80,245.50 C432.85,248.98 433.10,252.00 433.90,250.60 C434.70,249.20 435.85,241.10 436.60,237.10 C437.35,233.10 437.58,230.98 438.40,226.60 C439.22,222.22 440.57,214.23 441.50,210.80 C442.43,207.37 443.12,206.18 444.00,206.00 C444.88,205.82 445.82,208.20 446.80,209.70 C447.78,211.20 448.68,214.37 449.90,215.00 C451.12,215.63 452.87,212.27 454.10,213.50 C455.33,214.73 456.23,218.12 457.30,222.40 C458.37,226.68 459.45,234.82 460.50,239.20 C461.55,243.58 462.62,246.80 463.60,248.70 C464.58,250.60 465.35,250.85 466.40,250.60 C467.45,250.35 468.78,248.22 469.90,247.20 C471.02,246.18 472.03,244.43 473.10,244.50 C474.17,244.57 475.25,246.58 476.30,247.60 C477.35,248.62 478.43,250.93 479.40,250.60 C480.37,250.27 481.27,247.32 482.10,245.60 C482.93,243.88 483.83,241.68 484.40,240.30 C484.97,238.92 484.77,239.58 485.50,237.30 C486.23,235.02 487.83,230.90 488.80,226.60 C489.77,222.30 490.78,215.02 491.30,211.50 C491.82,207.98 491.58,208.25 491.90,205.50 C492.22,202.75 492.83,197.50 493.20,195.00 C493.57,192.50 493.88,192.05 494.10,190.50 C494.32,188.95 494.25,187.37 494.50,185.70 C494.75,184.03 495.20,181.98 495.60,180.50 C496.00,179.02 496.42,178.07 496.90,176.80 C497.38,175.53 497.98,173.68 498.50,172.90 C499.02,172.12 499.50,172.10 500.00,172.10 C500.50,172.10 500.98,172.12 501.50,172.90 C502.02,173.68 502.62,175.53 503.10,176.80 C503.58,178.07 503.98,179.02 504.40,180.50 C504.82,181.98 505.25,184.03 505.60,185.70 C505.95,187.37 506.20,188.78 506.50,190.50 C506.80,192.22 507.03,193.98 507.40,196.00 C507.77,198.02 508.25,200.38 508.70,202.60 C509.15,204.82 509.60,207.30 510.10,209.30 C510.60,211.30 511.15,213.38 511.70,214.60 C512.25,215.82 512.85,216.35 513.40,216.60 C513.95,216.85 514.45,216.25 515.00,216.10 C515.55,215.95 515.97,215.40 516.70,215.70 C517.43,216.00 518.52,216.75 519.40,217.90 C520.28,219.05 521.12,220.60 522.00,222.60 C522.88,224.60 523.83,227.33 524.70,229.90 C525.57,232.47 526.40,235.82 527.20,238.00 C528.00,240.18 528.83,243.00 529.50,243.00 C530.17,243.00 530.62,240.03 531.20,238.00 C531.78,235.97 532.45,233.63 533.00,230.80 C533.55,227.97 534.00,223.48 534.50,221.00 C535.00,218.52 535.53,218.30 536.00,215.90 C536.47,213.50 536.73,208.75 537.30,206.60 C537.87,204.45 538.78,203.35 539.40,203.00 C540.02,202.65 540.48,203.38 541.00,204.50 C541.52,205.62 541.72,205.50 542.50,209.70 C543.28,213.90 544.47,223.73 545.70,229.70 C546.93,235.67 548.85,242.02 549.90,245.50 C550.95,248.98 551.20,252.00 552.00,250.60 C552.80,249.20 553.95,241.10 554.70,237.10 C555.45,233.10 555.68,230.98 556.50,226.60 C557.32,222.22 558.67,214.23 559.60,210.80 C560.53,207.37 561.22,206.18 562.10,206.00 C562.98,205.82 563.92,208.20 564.90,209.70 C565.88,211.20 566.78,214.37 568.00,215.00 C569.22,215.63 570.97,212.27 572.20,213.50 C573.43,214.73 574.33,218.12 575.40,222.40 C576.47,226.68 577.55,234.82 578.60,239.20 C579.65,243.58 580.72,246.80 581.70,248.70 C582.68,250.60 583.45,250.85 584.50,250.60 C585.55,250.35 586.88,248.22 588.00,247.20 C589.12,246.18 590.13,244.43 591.20,244.50 C592.27,244.57 593.35,246.58 594.40,247.60 C595.45,248.62 596.53,250.93 597.50,250.60 C598.47,250.27 599.37,247.32 600.20,245.60 C601.03,243.88 601.93,241.68 602.50,240.30 C603.07,238.92 602.87,239.58 603.60,237.30 C604.33,235.02 605.93,230.90 606.90,226.60 C607.87,222.30 608.88,215.02 609.40,211.50 C609.92,207.98 609.68,208.25 610.00,205.50 C610.32,202.75 610.93,197.50 611.30,195.00 C611.67,192.50 611.98,192.05 612.20,190.50 C612.42,188.95 612.35,187.37 612.60,185.70 C612.85,184.03 613.30,181.98 613.70,180.50 C614.10,179.02 614.52,178.07 615.00,176.80 C615.48,175.53 616.08,173.68 616.60,172.90 C617.12,172.12 617.60,172.10 618.10,172.10 C618.60,172.10 619.08,172.12 619.60,172.90 C620.12,173.68 620.72,175.53 621.20,176.80 C621.68,178.07 622.08,179.02 622.50,180.50 C622.92,181.98 623.35,184.03 623.70,185.70 C624.05,187.37 624.30,188.78 624.60,190.50 C624.90,192.22 625.13,193.98 625.50,196.00 C625.87,198.02 626.35,200.38 626.80,202.60 C627.25,204.82 627.70,207.30 628.20,209.30 C628.70,211.30 629.25,213.38 629.80,214.60 C630.35,215.82 630.95,216.35 631.50,216.60 C632.05,216.85 632.55,216.25 633.10,216.10 C633.65,215.95 634.07,215.40 634.80,215.70 C635.53,216.00 636.62,216.75 637.50,217.90 C638.38,219.05 639.22,220.60 640.10,222.60 C640.98,224.60 641.93,227.33 642.80,229.90 C643.67,232.47 644.50,235.82 645.30,238.00 C646.10,240.18 646.93,243.00 647.60,243.00 C648.27,243.00 648.72,240.03 649.30,238.00 C649.88,235.97 650.55,233.63 651.10,230.80 C651.65,227.97 652.10,223.48 652.60,221.00 C653.10,218.52 653.63,218.30 654.10,215.90 C654.57,213.50 654.83,208.75 655.40,206.60 C655.97,204.45 656.88,203.35 657.50,203.00 C658.12,202.65 658.58,203.38 659.10,204.50 C659.62,205.62 659.82,205.50 660.60,209.70 C661.38,213.90 662.57,223.73 663.80,229.70 C665.03,235.67 666.95,242.02 668.00,245.50 C669.05,248.98 669.30,252.00 670.10,250.60 C670.90,249.20 672.05,241.10 672.80,237.10 C673.55,233.10 673.78,230.98 674.60,226.60 C675.42,222.22 676.77,214.23 677.70,210.80 C678.63,207.37 679.32,206.18 680.20,206.00 C681.08,205.82 682.02,208.20 683.00,209.70 C683.98,211.20 684.88,214.37 686.10,215.00 C687.32,215.63 689.07,212.27 690.30,213.50 C691.53,214.73 692.43,218.12 693.50,222.40 C694.57,226.68 695.65,234.82 696.70,239.20 C697.75,243.58 698.82,246.80 699.80,248.70 C700.78,250.60 701.55,250.85 702.60,250.60 C703.65,250.35 704.98,248.22 706.10,247.20 C707.22,246.18 708.23,244.43 709.30,244.50 C710.37,244.57 711.45,246.58 712.50,247.60 C713.55,248.62 714.63,250.93 715.60,250.60 C716.57,250.27 717.47,247.32 718.30,245.60 C719.13,243.88 720.03,241.68 720.60,240.30 C721.17,238.92 720.97,239.58 721.70,237.30 C722.43,235.02 724.03,230.90 725.00,226.60 C725.97,222.30 726.98,215.02 727.50,211.50 C728.02,207.98 727.78,208.25 728.10,205.50 C728.42,202.75 729.03,197.50 729.40,195.00 C729.77,192.50 730.08,192.05 730.30,190.50 C730.52,188.95 730.45,187.37 730.70,185.70 C730.95,184.03 731.40,181.98 731.80,180.50 C732.20,179.02 732.62,178.07 733.10,176.80 C733.58,175.53 734.43,173.55 734.70,172.90" fill="none" stroke="#0000ff" stroke-width="1.0"/>
<path d="M263.80,172.40 C264.05,173.13 264.83,174.58 265.30,176.80 C265.77,179.02 266.17,181.83 266.60,185.70 C267.03,189.57 267.53,196.07 267.90,200.00 C268.27,203.93 268.47,206.43 268.80,209.30 C269.13,212.17 269.50,213.88 269.90,217.20 C270.30,220.52 270.63,225.07 271.20,229.20 C271.77,233.33 272.70,239.20 273.30,242.00 C273.90,244.80 274.22,245.12 274.80,246.00 C275.38,246.88 275.88,247.30 276.80,247.30 C277.72,247.30 278.97,246.50 280.30,246.00 C281.63,245.50 283.38,244.20 284.80,244.30 C286.22,244.40 287.47,245.95 288.80,246.60 C290.13,247.25 291.13,248.08 292.80,248.20 C294.47,248.32 296.80,247.23 298.80,247.30 C300.80,247.37 302.90,248.08 304.80,248.60 C306.70,249.12 308.37,250.00 310.20,250.40 C312.03,250.80 312.90,251.03 315.80,251.00 C318.70,250.97 323.87,250.77 327.60,250.20 C331.33,249.63 334.68,248.20 338.20,247.60 C341.72,247.00 345.55,246.95 348.70,246.60 C351.85,246.25 354.98,245.88 357.10,245.50 C359.22,245.12 359.70,244.15 361.40,244.30 C363.10,244.45 365.75,246.78 367.30,246.40 C368.85,246.02 369.92,243.52 370.70,242.00 C371.48,240.48 371.45,239.75 372.00,237.30 C372.55,234.85 373.38,231.02 374.00,227.30 C374.62,223.58 375.33,217.63 375.70,215.00 C376.07,212.37 375.80,214.67 376.20,211.50 C376.60,208.33 377.62,200.08 378.10,196.00 C378.58,191.92 378.72,190.17 379.10,187.00 C379.48,183.83 379.93,179.43 380.40,177.00 C380.87,174.57 381.40,172.43 381.90,172.40 C382.40,172.37 382.93,174.58 383.40,176.80 C383.87,179.02 384.27,181.83 384.70,185.70 C385.13,189.57 385.63,196.07 386.00,200.00 C386.37,203.93 386.57,206.43 386.90,209.30 C387.23,212.17 387.60,213.88 388.00,217.20 C388.40,220.52 388.73,225.07 389.30,229.20 C389.87,233.33 390.80,239.20 391.40,242.00 C392.00,244.80 392.32,245.12 392.90,246.00 C393.48,246.88 393.98,247.30 394.90,247.30 C395.82,247.30 397.07,246.50 398.40,246.00 C399.73,245.50 401.48,244.20 402.90,244.30 C404.32,244.40 405.57,245.95 406.90,246.60 C408.23,247.25 409.23,248.08 410.90,248.20 C412.57,248.32 414.90,247.23 416.90,247.30 C418.90,247.37 421.00,248.08 422.90,248.60 C424.80,249.12 426.47,250.00 428.30,250.40 C430.13,250.80 431.00,251.03 433.90,251.00 C436.80,250.97 441.97,250.77 445.70,250.20 C449.43,249.63 452.78,248.20 456.30,247.60 C459.82,247.00 463.65,246.95 466.80,246.60 C469.95,246.25 473.08,245.88 475.20,245.50 C477.32,245.12 477.80,244.15 479.50,244.30 C481.20,244.45 483.85,246.78 485.40,246.40 C486.95,246.02 488.02,243.52 488.80,242.00 C489.58,240.48 489.55,239.75 490.10,237.30 C490.65,234.85 491.48,231.02 492.10,227.30 C492.72,223.58 493.43,217.63 493.80,215.00 C494.17,212.37 493.90,214.67 494.30,211.50 C494.70,208.33 495.72,200.08 496.20,196.00 C496.68,191.92 496.82,190.17 497.20,187.00 C497.58,183.83 498.03,179.43 498.50,177.00 C498.97,174.57 499.50,172.43 500.00,172.40 C500.50,172.37 501.03,174.58 501.50,176.80 C501.97,179.02 502.37,181.83 502.80,185.70 C503.23,189.57 503.73,196.07 504.10,200.00 C504.47,203.93 504.67,206.43 505.00,209.30 C505.33,212.17 505.70,213.88 506.10,217.20 C506.50,220.52 506.83,225.07 507.40,229.20 C507.97,233.33 508.90,239.20 509.50,242.00 C510.10,244.80 510.42,245.12 511.00,246.00 C511.58,246.88 512.08,247.30 513.00,247.30 C513.92,247.30 515.17,246.50 516.50,246.00 C517.83,245.50 519.58,244.20 521.00,244.30 C522.42,244.40 523.67,245.95 525.00,246.60 C526.33,247.25 527.33,248.08 529.00,248.20 C530.67,248.32 533.00,247.23 535.00,247.30 C537.00,247.37 539.10,248.08 541.00,248.60 C542.90,249.12 544.57,250.00 546.40,250.40 C548.23,250.80 549.10,251.03 552.00,251.00 C554.90,250.97 560.07,250.77 563.80,250.20 C567.53,249.63 570.88,248.20 574.40,247.60 C577.92,247.00 581.75,246.95 584.90,246.60 C588.05,246.25 591.18,245.88 593.30,245.50 C595.42,245.12 595.90,244.15 597.60,244.30 C599.30,244.45 601.95,246.78 603.50,246.40 C605.05,246.02 606.12,243.52 606.90,242.00 C607.68,240.48 607.65,239.75 608.20,237.30 C608.75,234.85 609.58,231.02 610.20,227.30 C610.82,223.58 611.53,217.63 611.90,215.00 C612.27,212.37 612.00,214.67 612.40,211.50 C612.80,208.33 613.82,200.08 614.30,196.00 C614.78,191.92 614.92,190.17 615.30,187.00 C615.68,183.83 616.13,179.43 616.60,177.00 C617.07,174.57 617.60,172.43 618.10,172.40 C618.60,172.37 619.13,174.58 619.60,176.80 C620.07,179.02 620.47,181.83 620.90,185.70 C621.33,189.57 621.83,196.07 622.20,200.00 C622.57,203.93 622.77,206.43 623.10,209.30 C623.43,212.17 623.80,213.88 624.20,217.20 C624.60,220.52 624.93,225.07 625.50,229.20 C626.07,233.33 627.00,239.20 627.60,242.00 C628.20,244.80 628.52,245.12 629.10,246.00 C629.68,246.88 630.18,247.30 631.10,247.30 C632.02,247.30 633.27,246.50 634.60,246.00 C635.93,245.50 637.68,244.20 639.10,244.30 C640.52,244.40 641.77,245.95 643.10,246.60 C644.43,247.25 645.43,248.08 647.10,248.20 C648.77,248.32 651.10,247.23 653.10,247.30 C655.10,247.37 657.20,248.08 659.10,248.60 C661.00,249.12 662.67,250.00 664.50,250.40 C666.33,250.80 667.20,251.03 670.10,251.00 C673.00,250.97 678.17,250.77 681.90,250.20 C685.63,249.63 688.98,248.20 692.50,247.60 C696.02,247.00 699.85,246.95 703.00,246.60 C706.15,246.25 709.28,245.88 711.40,245.50 C713.52,245.12 714.00,244.15 715.70,244.30 C717.40,244.45 720.05,246.78 721.60,246.40 C723.15,246.02 724.22,243.52 725.00,242.00 C725.78,240.48 725.75,239.75 726.30,237.30 C726.85,234.85 727.68,231.02 728.30,227.30 C728.92,223.58 729.63,217.63 730.00,215.00 C730.37,212.37 730.10,214.67 730.50,211.50 C730.90,208.33 731.92,200.08 732.40,196.00 C732.88,191.92 733.02,190.17 733.40,187.00 C733.78,183.83 734.48,178.67 734.70,177.00" fill="none" stroke="#000" stroke-width="0.95" stroke-dasharray="2.6,1.3"/>
</g>
<rect x="322.5" y="164.6" width="354.5" height="86.9" fill="none" stroke="#000" stroke-width="0.7"/>
<line x1="322.50" y1="172.10" x2="325.30" y2="172.10" stroke="#000" stroke-width="0.7"/>
<line x1="322.50" y1="211.80" x2="325.30" y2="211.80" stroke="#000" stroke-width="0.7"/>
<line x1="322.50" y1="251.50" x2="325.30" y2="251.50" stroke="#000" stroke-width="0.7"/>
<line x1="381.90" y1="251.50" x2="381.90" y2="248.70" stroke="#000" stroke-width="0.7"/>
<line x1="500.00" y1="251.50" x2="500.00" y2="248.70" stroke="#000" stroke-width="0.7"/>
<line x1="618.10" y1="251.50" x2="618.10" y2="248.70" stroke="#000" stroke-width="0.7"/>
<text x="298.80" y="160.40" font-size="9.2" fill="#000" stroke="#000" stroke-width="0.15" textLength="7.60" lengthAdjust="spacingAndGlyphs">d)</text>
<text x="308.70" y="175.10" font-size="8.4" fill="#000" stroke="#000" stroke-width="0.15" textLength="11.90" lengthAdjust="spacingAndGlyphs">1.0</text>
<text x="308.70" y="214.70" font-size="8.4" fill="#000" stroke="#000" stroke-width="0.15" textLength="11.90" lengthAdjust="spacingAndGlyphs">0.5</text>
<text x="308.70" y="254.40" font-size="8.4" fill="#000" stroke="#000" stroke-width="0.15" textLength="11.90" lengthAdjust="spacingAndGlyphs">0.0</text>
<text transform="translate(305.50,208.80) rotate(-90)" x="0" y="0" text-anchor="middle" font-size="8.0" fill="#000" stroke="#000" stroke-width="0.15" textLength="67.60" lengthAdjust="spacingAndGlyphs">Intensity (arb. units)</text>
<text x="370.50" y="259.70" font-size="8.4" fill="#000" stroke="#000" stroke-width="0.15" textLength="22.70" lengthAdjust="spacingAndGlyphs">−63.9</text>
<text x="493.70" y="259.70" font-size="8.4" fill="#000" stroke="#000" stroke-width="0.15" textLength="12.20" lengthAdjust="spacingAndGlyphs">0.0</text>
<text x="609.50" y="259.70" font-size="8.4" fill="#000" stroke="#000" stroke-width="0.15" textLength="17.00" lengthAdjust="spacingAndGlyphs">63.9</text>
<text x="483.20" y="269.10" font-size="8.4" fill="#000" stroke="#000" stroke-width="0.15" textLength="34.10" lengthAdjust="spacingAndGlyphs">Time (ps)</text>
</g>
</svg>
</body></html>
